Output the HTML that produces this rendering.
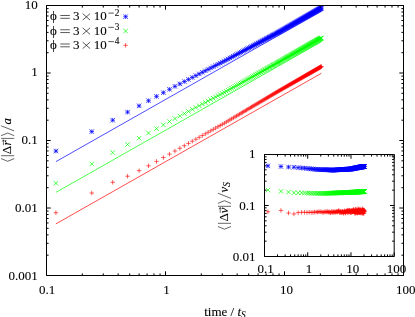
<!DOCTYPE html><html><head><meta charset="utf-8"><style>html,body{margin:0;padding:0;background:#fff}body{width:415px;height:317px;position:relative;overflow:hidden;font-family:"Liberation Serif",serif}</style></head><body><svg width="415" height="317" viewBox="0 0 415 317" style="position:absolute;left:0;top:0;will-change:transform;opacity:0.999">
<rect width="415" height="317" fill="#fff"/>
<path d="M55.92 161.65L321.35 11.10" stroke="#0000ff" stroke-width="0.7" fill="none"/>
<path d="M53.67 151.05H58.17M55.92 148.80V153.30M53.67 148.80L58.17 153.30M53.67 153.30L58.17 148.80M89.50 131.59H94.00M91.75 129.34V133.84M89.50 129.34L94.00 133.84M89.50 133.84L94.00 129.34M110.45 120.20H114.95M112.70 117.95V122.45M110.45 117.95L114.95 122.45M110.45 122.45L114.95 117.95M125.32 112.12H129.82M127.57 109.87V114.37M125.32 109.87L129.82 114.37M125.32 114.37L129.82 109.87M136.85 105.85H141.35M139.10 103.60V108.10M136.85 103.60L141.35 108.10M136.85 108.10L141.35 103.60M146.27 100.73H150.77M148.52 98.48V102.98M146.27 98.48L150.77 102.98M146.27 102.98L150.77 98.48M154.24 96.40H158.74M156.49 94.15V98.65M154.24 94.15L158.74 98.65M154.24 98.65L158.74 94.15M161.14 92.65H165.64M163.39 90.40V94.90M161.14 90.40L165.64 94.90M161.14 94.90L165.64 90.40M167.23 89.35H171.73M169.48 87.10V91.60M167.23 87.10L171.73 91.60M167.23 91.60L171.73 87.10M172.67 86.39H177.17M174.92 84.14V88.64M172.67 84.14L177.17 88.64M172.67 88.64L177.17 84.14M177.60 83.86H182.10M179.85 81.61V86.11M177.60 81.61L182.10 86.11M177.60 86.11L182.10 81.61M182.10 81.55H186.60M184.35 79.30V83.80M182.10 79.30L186.60 83.80M182.10 83.80L186.60 79.30M186.23 79.43H190.73M188.48 77.18V81.68M186.23 77.18L190.73 81.68M186.23 81.68L190.73 77.18M190.06 77.46H194.56M192.31 75.21V79.71M190.06 75.21L194.56 79.71M190.06 79.71L194.56 75.21M193.63 75.63H198.13M195.88 73.38V77.88M193.63 73.38L198.13 77.88M193.63 77.88L198.13 73.38M196.96 73.92H201.46M199.21 71.67V76.17M196.96 71.67L201.46 76.17M196.96 76.17L201.46 71.67M200.10 72.31H204.60M202.35 70.06V74.56M200.10 70.06L204.60 74.56M200.10 74.56L204.60 70.06M203.05 70.79H207.55M205.30 68.54V73.04M203.05 68.54L207.55 73.04M203.05 73.04L207.55 68.54M205.84 69.36H210.34M208.09 67.11V71.61M205.84 67.11L210.34 71.61M205.84 71.61L210.34 67.11M208.50 68.00H213.00M210.75 65.75V70.25M208.50 65.75L213.00 70.25M208.50 70.25L213.00 65.75M211.02 66.71H215.52M213.27 64.46V68.96M211.02 64.46L215.52 68.96M211.02 68.96L215.52 64.46M213.42 65.47H217.92M215.67 63.22V67.72M213.42 63.22L217.92 67.72M213.42 67.72L217.92 63.22M215.72 64.29H220.22M217.97 62.04V66.54M215.72 62.04L220.22 66.54M215.72 66.54L220.22 62.04M217.92 63.16H222.42M220.17 60.91V65.41M217.92 60.91L222.42 65.41M217.92 65.41L222.42 60.91M220.03 62.08H224.53M222.28 59.83V64.33M220.03 59.83L224.53 64.33M220.03 64.33L224.53 59.83M222.05 61.04H226.55M224.30 58.79V63.29M222.05 58.79L226.55 63.29M222.05 63.29L226.55 58.79M224.00 60.02H228.50M226.25 57.77V62.27M224.00 57.77L228.50 62.27M224.00 62.27L228.50 57.77M225.88 59.02H230.38M228.13 56.77V61.27M225.88 56.77L230.38 61.27M225.88 61.27L230.38 56.77M227.70 58.06H232.20M229.95 55.81V60.31M227.70 55.81L232.20 60.31M227.70 60.31L232.20 55.81M229.45 57.13H233.95M231.70 54.88V59.38M229.45 54.88L233.95 59.38M229.45 59.38L233.95 54.88M231.14 56.23H235.64M233.39 53.98V58.48M231.14 53.98L235.64 58.48M231.14 58.48L235.64 53.98M232.79 55.36H237.29M235.04 53.11V57.61M232.79 53.11L237.29 57.61M232.79 57.61L237.29 53.11M234.38 54.52H238.88M236.63 52.27V56.77M234.38 52.27L238.88 56.77M234.38 56.77L238.88 52.27M235.92 53.70H240.42M238.17 51.45V55.95M235.92 51.45L240.42 55.95M235.92 55.95L240.42 51.45M237.42 52.91H241.92M239.67 50.66V55.16M237.42 50.66L241.92 55.16M237.42 55.16L241.92 50.66M238.87 52.14H243.37M241.12 49.89V54.39M238.87 49.89L243.37 54.39M238.87 54.39L243.37 49.89M240.29 51.38H244.79M242.54 49.13V53.63M240.29 49.13L244.79 53.63M240.29 53.63L244.79 49.13M241.67 50.65H246.17M243.92 48.40V52.90M241.67 48.40L246.17 52.90M241.67 52.90L246.17 48.40M243.01 49.94H247.51M245.26 47.69V52.19M243.01 47.69L247.51 52.19M243.01 52.19L247.51 47.69M244.32 49.25H248.82M246.57 47.00V51.50M244.32 47.00L248.82 51.50M244.32 51.50L248.82 47.00M245.59 48.57H250.09M247.84 46.32V50.82M245.59 46.32L250.09 50.82M245.59 50.82L250.09 46.32M246.84 47.91H251.34M249.09 45.66V50.16M246.84 45.66L251.34 50.16M246.84 50.16L251.34 45.66M248.06 47.27H252.56M250.31 45.02V49.52M248.06 45.02L252.56 49.52M248.06 49.52L252.56 45.02M249.24 46.64H253.74M251.49 44.39V48.89M249.24 44.39L253.74 48.89M249.24 48.89L253.74 44.39M250.40 46.02H254.90M252.65 43.77V48.27M250.40 43.77L254.90 48.27M250.40 48.27L254.90 43.77M251.54 45.42H256.04M253.79 43.17V47.67M251.54 43.17L256.04 47.67M251.54 47.67L256.04 43.17M252.65 44.83H257.15M254.90 42.58V47.08M252.65 42.58L257.15 47.08M252.65 47.08L257.15 42.58M253.74 44.25H258.24M255.99 42.00V46.50M253.74 42.00L258.24 46.50M253.74 46.50L258.24 42.00M254.81 43.69H259.31M257.06 41.44V45.94M254.81 41.44L259.31 45.94M254.81 45.94L259.31 41.44M255.85 43.13H260.35M258.10 40.88V45.38M255.85 40.88L260.35 45.38M255.85 45.38L260.35 40.88M256.87 42.59H261.37M259.12 40.34V44.84M256.87 40.34L261.37 44.84M256.87 44.84L261.37 40.34M257.88 42.06H262.38M260.13 39.81V44.31M257.88 39.81L262.38 44.31M257.88 44.31L262.38 39.81M258.86 41.54H263.36M261.11 39.29V43.79M258.86 39.29L263.36 43.79M258.86 43.79L263.36 39.29M259.83 41.02H264.33M262.08 38.77V43.27M259.83 38.77L264.33 43.27M259.83 43.27L264.33 38.77M260.78 40.52H265.28M263.03 38.27V42.77M260.78 38.27L265.28 42.77M260.78 42.77L265.28 38.27M261.71 40.03H266.21M263.96 37.78V42.28M261.71 37.78L266.21 42.28M261.71 42.28L266.21 37.78M262.62 39.54H267.12M264.87 37.29V41.79M262.62 37.29L267.12 41.79M262.62 41.79L267.12 37.29M263.52 39.07H268.02M265.77 36.82V41.32M263.52 36.82L268.02 41.32M263.52 41.32L268.02 36.82M264.40 38.60H268.90M266.65 36.35V40.85M264.40 36.35L268.90 40.85M264.40 40.85L268.90 36.35M265.27 38.14H269.77M267.52 35.89V40.39M265.27 35.89L269.77 40.39M265.27 40.39L269.77 35.89M266.13 37.68H270.63M268.38 35.43V39.93M266.13 35.43L270.63 39.93M266.13 39.93L270.63 35.43M266.97 37.24H271.47M269.22 34.99V39.49M266.97 34.99L271.47 39.49M266.97 39.49L271.47 34.99M267.79 36.80H272.29M270.04 34.55V39.05M267.79 34.55L272.29 39.05M267.79 39.05L272.29 34.55M268.61 36.37H273.11M270.86 34.12V38.62M268.61 34.12L273.11 38.62M268.61 38.62L273.11 34.12M269.41 35.94H273.91M271.66 33.69V38.19M269.41 33.69L273.91 38.19M269.41 38.19L273.91 33.69M270.20 35.53H274.70M272.45 33.28V37.78M270.20 33.28L274.70 37.78M270.20 37.78L274.70 33.28M270.98 35.11H275.48M273.23 32.86V37.36M270.98 32.86L275.48 37.36M270.98 37.36L275.48 32.86M271.74 34.71H276.24M273.99 32.46V36.96M271.74 32.46L276.24 36.96M271.74 36.96L276.24 32.46M272.50 34.31H277.00M274.75 32.06V36.56M272.50 32.06L277.00 36.56M272.50 36.56L277.00 32.06M273.24 33.91H277.74M275.49 31.66V36.16M273.24 31.66L277.74 36.16M273.24 36.16L277.74 31.66M273.97 33.52H278.47M276.22 31.27V35.77M273.97 31.27L278.47 35.77M273.97 35.77L278.47 31.27M274.70 33.14H279.20M276.95 30.89V35.39M274.70 30.89L279.20 35.39M274.70 35.39L279.20 30.89M275.41 32.76H279.91M277.66 30.51V35.01M275.41 30.51L279.91 35.01M275.41 35.01L279.91 30.51M276.11 32.39H280.61M278.36 30.14V34.64M276.11 30.14L280.61 34.64M276.11 34.64L280.61 30.14M276.80 32.02H281.30M279.05 29.77V34.27M276.80 29.77L281.30 34.27M276.80 34.27L281.30 29.77M277.49 31.66H281.99M279.74 29.41V33.91M277.49 29.41L281.99 33.91M277.49 33.91L281.99 29.41M278.16 31.28H282.66M280.41 29.03V33.53M278.16 29.03L282.66 33.53M278.16 33.53L282.66 29.03M278.83 30.90H283.33M281.08 28.65V33.15M278.83 28.65L283.33 33.15M278.83 33.15L283.33 28.65M279.49 30.52H283.99M281.74 28.27V32.77M279.49 28.27L283.99 32.77M279.49 32.77L283.99 28.27M280.14 30.15H284.64M282.39 27.90V32.40M280.14 27.90L284.64 32.40M280.14 32.40L284.64 27.90M280.78 29.79H285.28M283.03 27.54V32.04M280.78 27.54L285.28 32.04M280.78 32.04L285.28 27.54M281.42 29.43H285.92M283.67 27.18V31.68M281.42 27.18L285.92 31.68M281.42 31.68L285.92 27.18M282.04 29.07H286.54M284.29 26.82V31.32M282.04 26.82L286.54 31.32M282.04 31.32L286.54 26.82M282.66 28.72H287.16M284.91 26.47V30.97M282.66 26.47L287.16 30.97M282.66 30.97L287.16 26.47M283.27 28.37H287.77M285.52 26.12V30.62M283.27 26.12L287.77 30.62M283.27 30.62L287.77 26.12M283.88 28.03H288.38M286.13 25.78V30.28M283.88 25.78L288.38 30.28M283.88 30.28L288.38 25.78M284.48 27.69H288.98M286.73 25.44V29.94M284.48 25.44L288.98 29.94M284.48 29.94L288.98 25.44M285.07 27.35H289.57M287.32 25.10V29.60M285.07 25.10L289.57 29.60M285.07 29.60L289.57 25.10M285.65 27.02H290.15M287.90 24.77V29.27M285.65 24.77L290.15 29.27M285.65 29.27L290.15 24.77M286.23 26.69H290.73M288.48 24.44V28.94M286.23 24.44L290.73 28.94M286.23 28.94L290.73 24.44M286.80 26.36H291.30M289.05 24.11V28.61M286.80 24.11L291.30 28.61M286.80 28.61L291.30 24.11M287.36 26.04H291.86M289.61 23.79V28.29M287.36 23.79L291.86 28.29M287.36 28.29L291.86 23.79M287.92 25.73H292.42M290.17 23.48V27.98M287.92 23.48L292.42 27.98M287.92 27.98L292.42 23.48M288.47 25.41H292.97M290.72 23.16V27.66M288.47 23.16L292.97 27.66M288.47 27.66L292.97 23.16M289.02 25.10H293.52M291.27 22.85V27.35M289.02 22.85L293.52 27.35M289.02 27.35L293.52 22.85M289.56 24.79H294.06M291.81 22.54V27.04M289.56 22.54L294.06 27.04M289.56 27.04L294.06 22.54M290.10 24.49H294.60M292.35 22.24V26.74M290.10 22.24L294.60 26.74M290.10 26.74L294.60 22.24M290.63 24.19H295.13M292.88 21.94V26.44M290.63 21.94L295.13 26.44M290.63 26.44L295.13 21.94M291.15 23.89H295.65M293.40 21.64V26.14M291.15 21.64L295.65 26.14M291.15 26.14L295.65 21.64M291.67 23.59H296.17M293.92 21.34V25.84M291.67 21.34L296.17 25.84M291.67 25.84L296.17 21.34M292.19 23.30H296.69M294.44 21.05V25.55M292.19 21.05L296.69 25.55M292.19 25.55L296.69 21.05M292.70 23.01H297.20M294.95 20.76V25.26M292.70 20.76L297.20 25.26M292.70 25.26L297.20 20.76M293.20 22.72H297.70M295.45 20.47V24.97M293.20 20.47L297.70 24.97M293.20 24.97L297.70 20.47M293.70 22.44H298.20M295.95 20.19V24.69M293.70 20.19L298.20 24.69M293.70 24.69L298.20 20.19M294.19 22.16H298.69M296.44 19.91V24.41M294.19 19.91L298.69 24.41M294.19 24.41L298.69 19.91M294.68 21.88H299.18M296.93 19.63V24.13M294.68 19.63L299.18 24.13M294.68 24.13L299.18 19.63M295.17 21.60H299.67M297.42 19.35V23.85M295.17 19.35L299.67 23.85M295.17 23.85L299.67 19.35M295.65 21.33H300.15M297.90 19.08V23.58M295.65 19.08L300.15 23.58M295.65 23.58L300.15 19.08M296.13 21.06H300.63M298.38 18.81V23.31M296.13 18.81L300.63 23.31M296.13 23.31L300.63 18.81M296.60 20.79H301.10M298.85 18.54V23.04M296.60 18.54L301.10 23.04M296.60 23.04L301.10 18.54M297.07 20.52H301.57M299.32 18.27V22.77M297.07 18.27L301.57 22.77M297.07 22.77L301.57 18.27M297.53 20.26H302.03M299.78 18.01V22.51M297.53 18.01L302.03 22.51M297.53 22.51L302.03 18.01M297.99 20.00H302.49M300.24 17.75V22.25M297.99 17.75L302.49 22.25M297.99 22.25L302.49 17.75M298.44 19.74H302.94M300.69 17.49V21.99M298.44 17.49L302.94 21.99M298.44 21.99L302.94 17.49M298.90 19.48H303.40M301.15 17.23V21.73M298.90 17.23L303.40 21.73M298.90 21.73L303.40 17.23M299.34 19.23H303.84M301.59 16.98V21.48M299.34 16.98L303.84 21.48M299.34 21.48L303.84 16.98M299.79 18.98H304.29M302.04 16.73V21.23M299.79 16.73L304.29 21.23M299.79 21.23L304.29 16.73M300.23 18.73H304.73M302.48 16.48V20.98M300.23 16.48L304.73 20.98M300.23 20.98L304.73 16.48M300.66 18.48H305.16M302.91 16.23V20.73M300.66 16.23L305.16 20.73M300.66 20.73L305.16 16.23M301.10 18.23H305.60M303.35 15.98V20.48M301.10 15.98L305.60 20.48M301.10 20.48L305.60 15.98M301.52 17.99H306.02M303.77 15.74V20.24M301.52 15.74L306.02 20.24M301.52 20.24L306.02 15.74M301.95 17.75H306.45M304.20 15.50V20.00M301.95 15.50L306.45 20.00M301.95 20.00L306.45 15.50M302.37 17.51H306.87M304.62 15.26V19.76M302.37 15.26L306.87 19.76M302.37 19.76L306.87 15.26M302.79 17.27H307.29M305.04 15.02V19.52M302.79 15.02L307.29 19.52M302.79 19.52L307.29 15.02M303.20 17.03H307.70M305.45 14.78V19.28M303.20 14.78L307.70 19.28M303.20 19.28L307.70 14.78M303.62 16.80H308.12M305.87 14.55V19.05M303.62 14.55L308.12 19.05M303.62 19.05L308.12 14.55M304.03 16.56H308.53M306.28 14.31V18.81M304.03 14.31L308.53 18.81M304.03 18.81L308.53 14.31M304.43 16.33H308.93M306.68 14.08V18.58M304.43 14.08L308.93 18.58M304.43 18.58L308.93 14.08M304.83 16.11H309.33M307.08 13.86V18.36M304.83 13.86L309.33 18.36M304.83 18.36L309.33 13.86M305.23 15.88H309.73M307.48 13.63V18.13M305.23 13.63L309.73 18.13M305.23 18.13L309.73 13.63M305.63 15.65H310.13M307.88 13.40V17.90M305.63 13.40L310.13 17.90M305.63 17.90L310.13 13.40M306.02 15.43H310.52M308.27 13.18V17.68M306.02 13.18L310.52 17.68M306.02 17.68L310.52 13.18M306.41 15.21H310.91M308.66 12.96V17.46M306.41 12.96L310.91 17.46M306.41 17.46L310.91 12.96M306.80 14.99H311.30M309.05 12.74V17.24M306.80 12.74L311.30 17.24M306.80 17.24L311.30 12.74M307.18 14.77H311.68M309.43 12.52V17.02M307.18 12.52L311.68 17.02M307.18 17.02L311.68 12.52M307.56 14.55H312.06M309.81 12.30V16.80M307.56 12.30L312.06 16.80M307.56 16.80L312.06 12.30M307.94 14.34H312.44M310.19 12.09V16.59M307.94 12.09L312.44 16.59M307.94 16.59L312.44 12.09M308.32 14.12H312.82M310.57 11.87V16.37M308.32 11.87L312.82 16.37M308.32 16.37L312.82 11.87M308.69 13.91H313.19M310.94 11.66V16.16M308.69 11.66L313.19 16.16M308.69 16.16L313.19 11.66M309.06 13.70H313.56M311.31 11.45V15.95M309.06 11.45L313.56 15.95M309.06 15.95L313.56 11.45M309.43 13.49H313.93M311.68 11.24V15.74M309.43 11.24L313.93 15.74M309.43 15.74L313.93 11.24M309.79 13.28H314.29M312.04 11.03V15.53M309.79 11.03L314.29 15.53M309.79 15.53L314.29 11.03M310.16 13.08H314.66M312.41 10.83V15.33M310.16 10.83L314.66 15.33M310.16 15.33L314.66 10.83M310.52 12.87H315.02M312.77 10.62V15.12M310.52 10.62L315.02 15.12M310.52 15.12L315.02 10.62M310.88 12.67H315.38M313.13 10.42V14.92M310.88 10.42L315.38 14.92M310.88 14.92L315.38 10.42M311.23 12.47H315.73M313.48 10.22V14.72M311.23 10.22L315.73 14.72M311.23 14.72L315.73 10.22M311.58 12.27H316.08M313.83 10.02V14.52M311.58 10.02L316.08 14.52M311.58 14.52L316.08 10.02M311.93 12.07H316.43M314.18 9.82V14.32M311.93 9.82L316.43 14.32M311.93 14.32L316.43 9.82M312.28 11.87H316.78M314.53 9.62V14.12M312.28 9.62L316.78 14.12M312.28 14.12L316.78 9.62M312.63 11.67H317.13M314.88 9.42V13.92M312.63 9.42L317.13 13.92M312.63 13.92L317.13 9.42M312.97 11.48H317.47M315.22 9.23V13.73M312.97 9.23L317.47 13.73M312.97 13.73L317.47 9.23M313.31 11.28H317.81M315.56 9.03V13.53M313.31 9.03L317.81 13.53M313.31 13.53L317.81 9.03M313.65 11.09H318.15M315.90 8.84V13.34M313.65 8.84L318.15 13.34M313.65 13.34L318.15 8.84M313.99 10.90H318.49M316.24 8.65V13.15M313.99 8.65L318.49 13.15M313.99 13.15L318.49 8.65M314.32 10.71H318.82M316.57 8.46V12.96M314.32 8.46L318.82 12.96M314.32 12.96L318.82 8.46M314.65 10.52H319.15M316.90 8.27V12.77M314.65 8.27L319.15 12.77M314.65 12.77L319.15 8.27M314.98 10.33H319.48M317.23 8.08V12.58M314.98 8.08L319.48 12.58M314.98 12.58L319.48 8.08M315.31 10.14H319.81M317.56 7.89V12.39M315.31 7.89L319.81 12.39M315.31 12.39L319.81 7.89M315.64 9.96H320.14M317.89 7.71V12.21M315.64 7.71L320.14 12.21M315.64 12.21L320.14 7.71M315.96 9.77H320.46M318.21 7.52V12.02M315.96 7.52L320.46 12.02M315.96 12.02L320.46 7.52M316.28 9.59H320.78M318.53 7.34V11.84M316.28 7.34L320.78 11.84M316.28 11.84L320.78 7.34M316.60 9.41H321.10M318.85 7.16V11.66M316.60 7.16L321.10 11.66M316.60 11.66L321.10 7.16M316.92 9.23H321.42M319.17 6.98V11.48M316.92 6.98L321.42 11.48M316.92 11.48L321.42 6.98M317.24 9.05H321.74M319.49 6.80V11.30M317.24 6.80L321.74 11.30M317.24 11.30L321.74 6.80M317.55 8.87H322.05M319.80 6.62V11.12M317.55 6.62L322.05 11.12M317.55 11.12L322.05 6.62M317.87 8.69H322.37M320.12 6.44V10.94M317.87 6.44L322.37 10.94M317.87 10.94L322.37 6.44M318.18 8.52H322.68M320.43 6.27V10.77M318.18 6.27L322.68 10.77M318.18 10.77L322.68 6.27M318.48 8.34H322.98M320.73 6.09V10.59M318.48 6.09L322.98 10.59M318.48 10.59L322.98 6.09M318.79 8.17H323.29M321.04 5.92V10.42M318.79 5.92L323.29 10.42M318.79 10.42L323.29 5.92M319.10 7.99H323.60M321.35 5.74V10.24M319.10 5.74L323.60 10.24M319.10 10.24L323.60 5.74" stroke="#0000ff" stroke-width="0.72" fill="none"/>
<path d="M55.92 192.38L321.35 41.82" stroke="#00ff00" stroke-width="0.7" fill="none"/>
<path d="M53.67 180.98L58.17 185.48M53.67 185.48L58.17 180.98M89.50 161.65L94.00 166.15M89.50 166.15L94.00 161.65M110.45 150.35L114.95 154.85M110.45 154.85L114.95 150.35M125.32 142.23L129.82 146.73M125.32 146.73L129.82 142.23M136.85 135.92L141.35 140.42M136.85 140.42L141.35 135.92M146.27 130.77L150.77 135.27M146.27 135.27L150.77 130.77M154.24 126.42L158.74 130.92M154.24 130.92L158.74 126.42M161.14 122.65L165.64 127.15M161.14 127.15L165.64 122.65M167.23 119.32L171.73 123.82M167.23 123.82L171.73 119.32M172.67 116.35L177.17 120.85M172.67 120.85L177.17 116.35M177.60 113.73L182.10 118.23M177.60 118.23L182.10 113.73M182.10 111.34L186.60 115.84M182.10 115.84L186.60 111.34M186.23 109.15L190.73 113.65M186.23 113.65L190.73 109.15M190.06 107.12L194.56 111.62M190.06 111.62L194.56 107.12M193.63 105.22L198.13 109.72M193.63 109.72L198.13 105.22M196.96 103.45L201.46 107.95M196.96 107.95L201.46 103.45M200.10 101.79L204.60 106.29M200.10 106.29L204.60 101.79M203.05 100.22L207.55 104.72M203.05 104.72L207.55 100.22M205.84 98.74L210.34 103.24M205.84 103.24L210.34 98.74M208.50 97.33L213.00 101.83M208.50 101.83L213.00 97.33M211.02 95.99L215.52 100.49M211.02 100.49L215.52 95.99M213.42 94.72L217.92 99.22M213.42 99.22L217.92 94.72M215.72 93.50L220.22 98.00M215.72 98.00L220.22 93.50M217.92 92.33L222.42 96.83M217.92 96.83L222.42 92.33M220.03 91.21L224.53 95.71M220.03 95.71L224.53 91.21M222.05 90.13L226.55 94.63M222.05 94.63L226.55 90.13M224.00 89.07L228.50 93.57M224.00 93.57L228.50 89.07M225.88 88.02L230.38 92.52M225.88 92.52L230.38 88.02M227.70 87.01L232.20 91.51M227.70 91.51L232.20 87.01M229.45 86.04L233.95 90.54M229.45 90.54L233.95 86.04M231.14 85.10L235.64 89.60M231.14 89.60L235.64 85.10M232.79 84.18L237.29 88.68M232.79 88.68L237.29 84.18M234.38 83.30L238.88 87.80M234.38 87.80L238.88 83.30M235.92 82.44L240.42 86.94M235.92 86.94L240.42 82.44M237.42 81.61L241.92 86.11M237.42 86.11L241.92 81.61M238.87 80.80L243.37 85.30M238.87 85.30L243.37 80.80M240.29 80.01L244.79 84.51M240.29 84.51L244.79 80.01M241.67 79.25L246.17 83.75M241.67 83.75L246.17 79.25M243.01 78.50L247.51 83.00M243.01 83.00L247.51 78.50M244.32 77.77L248.82 82.27M244.32 82.27L248.82 77.77M245.59 77.06L250.09 81.56M245.59 81.56L250.09 77.06M246.84 76.37L251.34 80.87M246.84 80.87L251.34 76.37M248.06 75.69L252.56 80.19M248.06 80.19L252.56 75.69M249.24 75.03L253.74 79.53M249.24 79.53L253.74 75.03M250.40 74.39L254.90 78.89M250.40 78.89L254.90 74.39M251.54 73.75L256.04 78.25M251.54 78.25L256.04 73.75M252.65 73.14L257.15 77.64M252.65 77.64L257.15 73.14M253.74 72.53L258.24 77.03M253.74 77.03L258.24 72.53M254.81 71.94L259.31 76.44M254.81 76.44L259.31 71.94M255.85 71.36L260.35 75.86M255.85 75.86L260.35 71.36M256.87 70.79L261.37 75.29M256.87 75.29L261.37 70.79M257.88 70.23L262.38 74.73M257.88 74.73L262.38 70.23M258.86 69.68L263.36 74.18M258.86 74.18L263.36 69.68M259.83 69.15L264.33 73.65M259.83 73.65L264.33 69.15M260.78 68.62L265.28 73.12M260.78 73.12L265.28 68.62M261.71 68.10L266.21 72.60M261.71 72.60L266.21 68.10M262.62 67.59L267.12 72.09M262.62 72.09L267.12 67.59M263.52 67.09L268.02 71.59M263.52 71.59L268.02 67.09M264.40 66.60L268.90 71.10M264.40 71.10L268.90 66.60M265.27 66.12L269.77 70.62M265.27 70.62L269.77 66.12M266.13 65.64L270.63 70.14M266.13 70.14L270.63 65.64M266.97 65.18L271.47 69.68M266.97 69.68L271.47 65.18M267.79 64.72L272.29 69.22M267.79 69.22L272.29 64.72M268.61 64.26L273.11 68.76M268.61 68.76L273.11 64.26M269.41 63.82L273.91 68.32M269.41 68.32L273.91 63.82M270.20 63.38L274.70 67.88M270.20 67.88L274.70 63.38M270.98 62.95L275.48 67.45M270.98 67.45L275.48 62.95M271.74 62.52L276.24 67.02M271.74 67.02L276.24 62.52M272.50 62.10L277.00 66.60M272.50 66.60L277.00 62.10M273.24 61.69L277.74 66.19M273.24 66.19L277.74 61.69M273.97 61.28L278.47 65.78M273.97 65.78L278.47 61.28M274.70 60.88L279.20 65.38M274.70 65.38L279.20 60.88M275.41 60.48L279.91 64.98M275.41 64.98L279.91 60.48M276.11 60.09L280.61 64.59M276.11 64.59L280.61 60.09M276.80 59.70L281.30 64.20M276.80 64.20L281.30 59.70M277.49 59.32L281.99 63.82M277.49 63.82L281.99 59.32M278.16 58.94L282.66 63.44M278.16 63.44L282.66 58.94M278.83 58.56L283.33 63.06M278.83 63.06L283.33 58.56M279.49 58.19L283.99 62.69M279.49 62.69L283.99 58.19M280.14 57.82L284.64 62.32M280.14 62.32L284.64 57.82M280.78 57.46L285.28 61.96M280.78 61.96L285.28 57.46M281.42 57.10L285.92 61.60M281.42 61.60L285.92 57.10M282.04 56.74L286.54 61.24M282.04 61.24L286.54 56.74M282.66 56.39L287.16 60.89M282.66 60.89L287.16 56.39M283.27 56.04L287.77 60.54M283.27 60.54L287.77 56.04M283.88 55.70L288.38 60.20M283.88 60.20L288.38 55.70M284.48 55.36L288.98 59.86M284.48 59.86L288.98 55.36M285.07 55.03L289.57 59.53M285.07 59.53L289.57 55.03M285.65 54.69L290.15 59.19M285.65 59.19L290.15 54.69M286.23 54.37L290.73 58.87M286.23 58.87L290.73 54.37M286.80 54.04L291.30 58.54M286.80 58.54L291.30 54.04M287.36 53.72L291.86 58.22M287.36 58.22L291.86 53.72M287.92 53.41L292.42 57.91M287.92 57.91L292.42 53.41M288.47 53.09L292.97 57.59M288.47 57.59L292.97 53.09M289.02 52.78L293.52 57.28M289.02 57.28L293.52 52.78M289.56 52.47L294.06 56.97M289.56 56.97L294.06 52.47M290.10 52.17L294.60 56.67M290.10 56.67L294.60 52.17M290.63 51.87L295.13 56.37M290.63 56.37L295.13 51.87M291.15 51.57L295.65 56.07M291.15 56.07L295.65 51.57M291.67 51.28L296.17 55.78M291.67 55.78L296.17 51.28M292.19 50.99L296.69 55.49M292.19 55.49L296.69 50.99M292.70 50.70L297.20 55.20M292.70 55.20L297.20 50.70M293.20 50.41L297.70 54.91M293.20 54.91L297.70 50.41M293.70 50.13L298.20 54.63M293.70 54.63L298.20 50.13M294.19 49.85L298.69 54.35M294.19 54.35L298.69 49.85M294.68 49.57L299.18 54.07M294.68 54.07L299.18 49.57M295.17 49.29L299.67 53.79M295.17 53.79L299.67 49.29M295.65 49.02L300.15 53.52M295.65 53.52L300.15 49.02M296.13 48.75L300.63 53.25M296.13 53.25L300.63 48.75M296.60 48.48L301.10 52.98M296.60 52.98L301.10 48.48M297.07 48.22L301.57 52.72M297.07 52.72L301.57 48.22M297.53 47.96L302.03 52.46M297.53 52.46L302.03 47.96M297.99 47.70L302.49 52.20M297.99 52.20L302.49 47.70M298.44 47.44L302.94 51.94M298.44 51.94L302.94 47.44M298.90 47.18L303.40 51.68M298.90 51.68L303.40 47.18M299.34 46.93L303.84 51.43M299.34 51.43L303.84 46.93M299.79 46.68L304.29 51.18M299.79 51.18L304.29 46.68M300.23 46.43L304.73 50.93M300.23 50.93L304.73 46.43M300.66 46.18L305.16 50.68M300.66 50.68L305.16 46.18M301.10 45.93L305.60 50.43M301.10 50.43L305.60 45.93M301.52 45.69L306.02 50.19M301.52 50.19L306.02 45.69M301.95 45.45L306.45 49.95M301.95 49.95L306.45 45.45M302.37 45.21L306.87 49.71M302.37 49.71L306.87 45.21M302.79 44.97L307.29 49.47M302.79 49.47L307.29 44.97M303.20 44.74L307.70 49.24M303.20 49.24L307.70 44.74M303.62 44.50L308.12 49.00M303.62 49.00L308.12 44.50M304.03 44.27L308.53 48.77M304.03 48.77L308.53 44.27M304.43 44.04L308.93 48.54M304.43 48.54L308.93 44.04M304.83 43.81L309.33 48.31M304.83 48.31L309.33 43.81M305.23 43.59L309.73 48.09M305.23 48.09L309.73 43.59M305.63 43.36L310.13 47.86M305.63 47.86L310.13 43.36M306.02 43.14L310.52 47.64M306.02 47.64L310.52 43.14M306.41 42.92L310.91 47.42M306.41 47.42L310.91 42.92M306.80 42.70L311.30 47.20M306.80 47.20L311.30 42.70M307.18 42.48L311.68 46.98M307.18 46.98L311.68 42.48M307.56 42.26L312.06 46.76M307.56 46.76L312.06 42.26M307.94 42.05L312.44 46.55M307.94 46.55L312.44 42.05M308.32 41.84L312.82 46.34M308.32 46.34L312.82 41.84M308.69 41.62L313.19 46.12M308.69 46.12L313.19 41.62M309.06 41.41L313.56 45.91M309.06 45.91L313.56 41.41M309.43 41.21L313.93 45.71M309.43 45.71L313.93 41.21M309.79 41.00L314.29 45.50M309.79 45.50L314.29 41.00M310.16 40.79L314.66 45.29M310.16 45.29L314.66 40.79M310.52 40.59L315.02 45.09M310.52 45.09L315.02 40.59M310.88 40.39L315.38 44.89M310.88 44.89L315.38 40.39M311.23 40.18L315.73 44.68M311.23 44.68L315.73 40.18M311.58 39.98L316.08 44.48M311.58 44.48L316.08 39.98M311.93 39.79L316.43 44.29M311.93 44.29L316.43 39.79M312.28 39.59L316.78 44.09M312.28 44.09L316.78 39.59M312.63 39.39L317.13 43.89M312.63 43.89L317.13 39.39M312.97 39.20L317.47 43.70M312.97 43.70L317.47 39.20M313.31 39.00L317.81 43.50M313.31 43.50L317.81 39.00M313.65 38.81L318.15 43.31M313.65 43.31L318.15 38.81M313.99 38.62L318.49 43.12M313.99 43.12L318.49 38.62M314.32 38.43L318.82 42.93M314.32 42.93L318.82 38.43M314.65 38.24L319.15 42.74M314.65 42.74L319.15 38.24M314.98 38.06L319.48 42.56M314.98 42.56L319.48 38.06M315.31 37.87L319.81 42.37M315.31 42.37L319.81 37.87M315.64 37.68L320.14 42.18M315.64 42.18L320.14 37.68M315.96 37.50L320.46 42.00M315.96 42.00L320.46 37.50M316.28 37.32L320.78 41.82M316.28 41.82L320.78 37.32M316.60 37.14L321.10 41.64M316.60 41.64L321.10 37.14M316.92 36.96L321.42 41.46M316.92 41.46L321.42 36.96M317.24 36.78L321.74 41.28M317.24 41.28L321.74 36.78M317.55 36.60L322.05 41.10M317.55 41.10L322.05 36.60M317.87 36.42L322.37 40.92M317.87 40.92L322.37 36.42M318.18 36.24L322.68 40.74M318.18 40.74L322.68 36.24M318.48 36.07L322.98 40.57M318.48 40.57L322.98 36.07M318.79 35.90L323.29 40.40M318.79 40.40L323.29 35.90M319.10 35.72L323.60 40.22M319.10 40.22L323.60 35.72" stroke="#00ff00" stroke-width="0.72" fill="none"/>
<path d="M55.92 223.87L321.35 73.31" stroke="#ff0000" stroke-width="0.7" fill="none"/>
<path d="M53.67 212.73H58.17M55.92 210.48V214.98M89.50 193.02H94.00M91.75 190.77V195.27M110.45 182.29H114.95M112.70 180.04V184.54M125.32 176.21H129.82M127.57 173.96V178.46M136.85 170.68H141.35M139.10 168.43V172.93M146.27 165.81H150.77M148.52 163.56V168.06M154.24 161.42H158.74M156.49 159.17V163.67M161.14 157.53H165.64M163.39 155.28V159.78M167.23 154.10H171.73M169.48 151.85V156.35M172.67 151.03H177.17M174.92 148.78V153.28M177.60 148.25H182.10M179.85 146.00V150.50M182.10 145.72H186.60M184.35 143.47V147.97M186.23 143.38H190.73M188.48 141.13V145.63M190.06 141.22H194.56M192.31 138.97V143.47M193.63 139.21H198.13M195.88 136.96V141.46M196.96 137.32H201.46M199.21 135.07V139.57M200.10 135.55H204.60M202.35 133.30V137.80M203.05 133.89H207.55M205.30 131.64V136.14M205.84 132.31H210.34M208.09 130.06V134.56M208.50 130.81H213.00M210.75 128.56V133.06M211.02 129.39H215.52M213.27 127.14V131.64M213.42 128.03H217.92M215.67 125.78V130.28M215.72 126.73H220.22M217.97 124.48V128.98M217.92 125.49H222.42M220.17 123.24V127.74M220.03 124.30H224.53M222.28 122.05V126.55M222.05 123.16H226.55M224.30 120.91V125.41M224.00 122.02H228.50M226.25 119.77V124.27M225.88 120.91H230.38M228.13 118.66V123.16M227.70 119.83H232.20M229.95 117.58V122.08M229.45 118.80H233.95M231.70 116.55V121.05M231.14 117.79H235.64M233.39 115.54V120.04M232.79 116.82H237.29M235.04 114.57V119.07M234.38 115.88H238.88M236.63 113.63V118.13M235.92 114.97H240.42M238.17 112.72V117.22M237.42 114.08H241.92M239.67 111.83V116.33M238.87 113.22H243.37M241.12 110.97V115.47M240.29 112.38H244.79M242.54 110.13V114.63M241.67 111.56H246.17M243.92 109.31V113.81M243.01 110.77H247.51M245.26 108.52V113.02M244.32 109.99H248.82M246.57 107.74V112.24M245.59 109.23H250.09M247.84 106.98V111.48M246.84 108.50H251.34M249.09 106.25V110.75M248.06 107.78H252.56M250.31 105.53V110.03M249.24 107.07H253.74M251.49 104.82V109.32M250.40 106.39H254.90M252.65 104.14V108.64M251.54 105.71H256.04M253.79 103.46V107.96M252.65 105.05H257.15M254.90 102.80V107.30M253.74 104.41H258.24M255.99 102.16V106.66M254.81 103.78H259.31M257.06 101.53V106.03M255.85 103.16H260.35M258.10 100.91V105.41M256.87 102.55H261.37M259.12 100.30V104.80M257.88 101.96H262.38M260.13 99.71V104.21M258.86 101.38H263.36M261.11 99.13V103.63M259.83 100.80H264.33M262.08 98.55V103.05M260.78 100.24H265.28M263.03 97.99V102.49M261.71 99.69H266.21M263.96 97.44V101.94M262.62 99.15H267.12M264.87 96.90V101.40M263.52 98.62H268.02M265.77 96.37V100.87M264.40 98.09H268.90M266.65 95.84V100.34M265.27 97.58H269.77M267.52 95.33V99.83M266.13 97.07H270.63M268.38 94.82V99.32M266.97 96.58H271.47M269.22 94.33V98.83M267.79 96.09H272.29M270.04 93.84V98.34M268.61 95.60H273.11M270.86 93.35V97.85M269.41 95.13H273.91M271.66 92.88V97.38M270.20 94.66H274.70M272.45 92.41V96.91M270.98 94.20H275.48M273.23 91.95V96.45M271.74 93.75H276.24M273.99 91.50V96.00M272.50 93.30H277.00M274.75 91.05V95.55M273.24 92.86H277.74M275.49 90.61V95.11M273.97 92.43H278.47M276.22 90.18V94.68M274.70 92.01H279.20M276.95 89.76V94.26M275.41 91.60H279.91M277.66 89.35V93.85M276.11 91.20H280.61M278.36 88.95V93.45M276.80 90.80H281.30M279.05 88.55V93.05M277.49 90.41H281.99M279.74 88.16V92.66M278.16 90.02H282.66M280.41 87.77V92.27M278.83 89.64H283.33M281.08 87.39V91.89M279.49 89.26H283.99M281.74 87.01V91.51M280.14 88.89H284.64M282.39 86.64V91.14M280.78 88.52H285.28M283.03 86.27V90.77M281.42 88.16H285.92M283.67 85.91V90.41M282.04 87.80H286.54M284.29 85.55V90.05M282.66 87.45H287.16M284.91 85.20V89.70M283.27 87.10H287.77M285.52 84.85V89.35M283.88 86.75H288.38M286.13 84.50V89.00M284.48 86.41H288.98M286.73 84.16V88.66M285.07 86.07H289.57M287.32 83.82V88.32M285.65 85.73H290.15M287.90 83.48V87.98M286.23 85.40H290.73M288.48 83.15V87.65M286.80 85.08H291.30M289.05 82.83V87.33M287.36 84.75H291.86M289.61 82.50V87.00M287.92 84.43H292.42M290.17 82.18V86.68M288.47 84.11H292.97M290.72 81.86V86.36M289.02 83.80H293.52M291.27 81.55V86.05M289.56 83.49H294.06M291.81 81.24V85.74M290.10 83.18H294.60M292.35 80.93V85.43M290.63 82.88H295.13M292.88 80.63V85.13M291.15 82.58H295.65M293.40 80.33V84.83M291.67 82.28H296.17M293.92 80.03V84.53M292.19 81.99H296.69M294.44 79.74V84.24M292.70 81.70H297.20M294.95 79.45V83.95M293.20 81.41H297.70M295.45 79.16V83.66M293.70 81.12H298.20M295.95 78.87V83.37M294.19 80.84H298.69M296.44 78.59V83.09M294.68 80.56H299.18M296.93 78.31V82.81M295.17 80.28H299.67M297.42 78.03V82.53M295.65 80.00H300.15M297.90 77.75V82.25M296.13 79.73H300.63M298.38 77.48V81.98M296.60 79.46H301.10M298.85 77.21V81.71M297.07 79.19H301.57M299.32 76.94V81.44M297.53 78.92H302.03M299.78 76.67V81.17M297.99 78.66H302.49M300.24 76.41V80.91M298.44 78.40H302.94M300.69 76.15V80.65M298.90 78.14H303.40M301.15 75.89V80.39M299.34 77.88H303.84M301.59 75.63V80.13M299.79 77.63H304.29M302.04 75.38V79.88M300.23 77.38H304.73M302.48 75.13V79.63M300.66 77.13H305.16M302.91 74.88V79.38M301.10 76.88H305.60M303.35 74.63V79.13M301.52 76.63H306.02M303.77 74.38V78.88M301.95 76.39H306.45M304.20 74.14V78.64M302.37 76.15H306.87M304.62 73.90V78.40M302.79 75.91H307.29M305.04 73.66V78.16M303.20 75.67H307.70M305.45 73.42V77.92M303.62 75.44H308.12M305.87 73.19V77.69M304.03 75.20H308.53M306.28 72.95V77.45M304.43 74.97H308.93M306.68 72.72V77.22M304.83 74.74H309.33M307.08 72.49V76.99M305.23 74.51H309.73M307.48 72.26V76.76M305.63 74.28H310.13M307.88 72.03V76.53M306.02 74.06H310.52M308.27 71.81V76.31M306.41 73.83H310.91M308.66 71.58V76.08M306.80 73.61H311.30M309.05 71.36V75.86M307.18 73.39H311.68M309.43 71.14V75.64M307.56 73.17H312.06M309.81 70.92V75.42M307.94 72.96H312.44M310.19 70.71V75.21M308.32 72.74H312.82M310.57 70.49V74.99M308.69 72.53H313.19M310.94 70.28V74.78M309.06 72.31H313.56M311.31 70.06V74.56M309.43 72.10H313.93M311.68 69.85V74.35M309.79 71.89H314.29M312.04 69.64V74.14M310.16 71.69H314.66M312.41 69.44V73.94M310.52 71.48H315.02M312.77 69.23V73.73M310.88 71.27H315.38M313.13 69.02V73.52M311.23 71.07H315.73M313.48 68.82V73.32M311.58 70.87H316.08M313.83 68.62V73.12M311.93 70.67H316.43M314.18 68.42V72.92M312.28 70.47H316.78M314.53 68.22V72.72M312.63 70.27H317.13M314.88 68.02V72.52M312.97 70.07H317.47M315.22 67.82V72.32M313.31 69.88H317.81M315.56 67.63V72.13M313.65 69.68H318.15M315.90 67.43V71.93M313.99 69.49H318.49M316.24 67.24V71.74M314.32 69.30H318.82M316.57 67.05V71.55M314.65 69.11H319.15M316.90 66.86V71.36M314.98 68.92H319.48M317.23 66.67V71.17M315.31 68.73H319.81M317.56 66.48V70.98M315.64 68.54H320.14M317.89 66.29V70.79M315.96 68.36H320.46M318.21 66.11V70.61M316.28 68.17H320.78M318.53 65.92V70.42M316.60 67.99H321.10M318.85 65.74V70.24M316.92 67.81H321.42M319.17 65.56V70.06M317.24 67.63H321.74M319.49 65.38V69.88M317.55 67.45H322.05M319.80 65.20V69.70M317.87 67.27H322.37M320.12 65.02V69.52M318.18 67.09H322.68M320.43 64.84V69.34M318.48 66.91H322.98M320.73 64.66V69.16M318.79 66.74H323.29M321.04 64.49V68.99M319.10 66.56H323.60M321.35 64.31V68.81" stroke="#ff0000" stroke-width="0.62" fill="none"/>
<path d="M265.67 165.88H270.17M267.92 163.63V168.13M265.67 163.63L270.17 168.13M265.67 168.13L270.17 163.63M278.69 166.50H283.19M280.94 164.25V168.75M278.69 164.25L283.19 168.75M278.69 168.75L283.19 164.25M286.30 167.05H290.80M288.55 164.80V169.30M286.30 164.80L290.80 169.30M286.30 169.30L290.80 164.80M291.70 167.24H296.20M293.95 164.99V169.49M291.70 164.99L296.20 169.49M291.70 169.49L296.20 164.99M295.89 167.67H300.39M298.14 165.42V169.92M295.89 165.42L300.39 169.92M295.89 169.92L300.39 165.42M299.32 167.99H303.82M301.57 165.74V170.24M299.32 165.74L303.82 170.24M299.32 170.24L303.82 165.74M302.21 168.13H306.71M304.46 165.88V170.38M302.21 165.88L306.71 170.38M302.21 170.38L306.71 165.88M304.72 168.48H309.22M306.97 166.23V170.73M304.72 166.23L309.22 170.73M304.72 170.73L309.22 166.23M306.93 168.70H311.43M309.18 166.45V170.95M306.93 166.45L311.43 170.95M306.93 170.95L311.43 166.45M308.91 168.85H313.41M311.16 166.60V171.10M308.91 166.60L313.41 171.10M308.91 171.10L313.41 166.60M310.70 169.00H315.20M312.95 166.75V171.25M310.70 166.75L315.20 171.25M310.70 171.25L315.20 166.75M312.33 169.24H316.83M314.58 166.99V171.49M312.33 166.99L316.83 171.49M312.33 171.49L316.83 166.99M313.83 169.35H318.33M316.08 167.10V171.60M313.83 167.10L318.33 171.60M313.83 171.60L318.33 167.10M315.22 169.51H319.72M317.47 167.26V171.76M315.22 167.26L319.72 171.76M315.22 171.76L319.72 167.26M316.52 169.53H321.02M318.77 167.28V171.78M316.52 167.28L321.02 171.78M316.52 171.78L321.02 167.28M317.73 169.58H322.23M319.98 167.33V171.83M317.73 167.33L322.23 171.83M317.73 171.83L322.23 167.33M318.87 169.67H323.37M321.12 167.42V171.92M318.87 167.42L323.37 171.92M318.87 171.92L323.37 167.42M319.94 169.73H324.44M322.19 167.48V171.98M319.94 167.48L324.44 171.98M319.94 171.98L324.44 167.48M320.96 169.77H325.46M323.21 167.52V172.02M320.96 167.52L325.46 172.02M320.96 172.02L325.46 167.52M321.92 169.72H326.42M324.17 167.47V171.97M321.92 167.47L326.42 171.97M321.92 171.97L326.42 167.47M322.84 169.75H327.34M325.09 167.50V172.00M322.84 167.50L327.34 172.00M322.84 172.00L327.34 167.50M323.71 169.80H328.21M325.96 167.55V172.05M323.71 167.55L328.21 172.05M323.71 172.05L328.21 167.55M324.55 169.81H329.05M326.80 167.56V172.06M324.55 167.56L329.05 172.06M324.55 172.06L329.05 167.56M325.34 169.92H329.84M327.59 167.67V172.17M325.34 167.67L329.84 172.17M325.34 172.17L329.84 167.67M326.11 169.87H330.61M328.36 167.62V172.12M326.11 167.62L330.61 172.12M326.11 172.12L330.61 167.62M326.85 169.88H331.35M329.10 167.63V172.13M326.85 167.63L331.35 172.13M326.85 172.13L331.35 167.63M327.56 169.88H332.06M329.81 167.63V172.13M327.56 167.63L332.06 172.13M327.56 172.13L332.06 167.63M328.24 170.00H332.74M330.49 167.75V172.25M328.24 167.75L332.74 172.25M328.24 172.25L332.74 167.75M328.90 170.00H333.40M331.15 167.75V172.25M328.90 167.75L333.40 172.25M328.90 172.25L333.40 167.75M329.53 170.13H334.03M331.78 167.88V172.38M329.53 167.88L334.03 172.38M329.53 172.38L334.03 167.88M330.15 170.06H334.65M332.40 167.81V172.31M330.15 167.81L334.65 172.31M330.15 172.31L334.65 167.81M330.75 170.18H335.25M333.00 167.93V172.43M330.75 167.93L335.25 172.43M330.75 172.43L335.25 167.93M331.32 170.16H335.82M333.57 167.91V172.41M331.32 167.91L335.82 172.41M331.32 172.41L335.82 167.91M331.88 169.98H336.38M334.13 167.73V172.23M331.88 167.73L336.38 172.23M331.88 172.23L336.38 167.73M332.43 170.14H336.93M334.68 167.89V172.39M332.43 167.89L336.93 172.39M332.43 172.39L336.93 167.89M332.96 169.93H337.46M335.21 167.68V172.18M332.96 167.68L337.46 172.18M332.96 172.18L337.46 167.68M333.47 169.92H337.97M335.72 167.67V172.17M333.47 167.67L337.97 172.17M333.47 172.17L337.97 167.67M333.97 169.93H338.47M336.22 167.68V172.18M333.97 167.68L338.47 172.18M333.97 172.18L338.47 167.68M334.46 169.85H338.96M336.71 167.60V172.10M334.46 167.60L338.96 172.10M334.46 172.10L338.96 167.60M334.94 169.82H339.44M337.19 167.57V172.07M334.94 167.57L339.44 172.07M334.94 172.07L339.44 167.57M335.40 169.76H339.90M337.65 167.51V172.01M335.40 167.51L339.90 172.01M335.40 172.01L339.90 167.51M335.85 169.80H340.35M338.10 167.55V172.05M335.85 167.55L340.35 172.05M335.85 172.05L340.35 167.55M336.29 169.80H340.79M338.54 167.55V172.05M336.29 167.55L340.79 172.05M336.29 172.05L340.79 167.55M336.73 169.77H341.23M338.98 167.52V172.02M336.73 167.52L341.23 172.02M336.73 172.02L341.23 167.52M337.15 169.77H341.65M339.40 167.52V172.02M337.15 167.52L341.65 172.02M337.15 172.02L341.65 167.52M337.56 169.68H342.06M339.81 167.43V171.93M337.56 167.43L342.06 171.93M337.56 171.93L342.06 167.43M337.96 169.70H342.46M340.21 167.45V171.95M337.96 167.45L342.46 171.95M337.96 171.95L342.46 167.45M338.36 169.57H342.86M340.61 167.32V171.82M338.36 167.32L342.86 171.82M338.36 171.82L342.86 167.32M338.75 169.72H343.25M341.00 167.47V171.97M338.75 167.47L343.25 171.97M338.75 171.97L343.25 167.47M339.13 169.65H343.63M341.38 167.40V171.90M339.13 167.40L343.63 171.90M339.13 171.90L343.63 167.40M339.50 169.62H344.00M341.75 167.37V171.87M339.50 167.37L344.00 171.87M339.50 171.87L344.00 167.37M339.86 169.66H344.36M342.11 167.41V171.91M339.86 167.41L344.36 171.91M339.86 171.91L344.36 167.41M340.22 169.40H344.72M342.47 167.15V171.65M340.22 167.15L344.72 171.65M340.22 171.65L344.72 167.15M340.57 169.64H345.07M342.82 167.39V171.89M340.57 167.39L345.07 171.89M340.57 171.89L345.07 167.39M340.91 169.49H345.41M343.16 167.24V171.74M340.91 167.24L345.41 171.74M340.91 171.74L345.41 167.24M341.25 169.48H345.75M343.50 167.23V171.73M341.25 167.23L345.75 171.73M341.25 171.73L345.75 167.23M341.59 169.33H346.09M343.84 167.08V171.58M341.59 167.08L346.09 171.58M341.59 171.58L346.09 167.08M341.91 169.53H346.41M344.16 167.28V171.78M341.91 167.28L346.41 171.78M341.91 171.78L346.41 167.28M342.23 169.32H346.73M344.48 167.07V171.57M342.23 167.07L346.73 171.57M342.23 171.57L346.73 167.07M342.55 169.41H347.05M344.80 167.16V171.66M342.55 167.16L347.05 171.66M342.55 171.66L347.05 167.16M342.86 169.36H347.36M345.11 167.11V171.61M342.86 167.11L347.36 171.61M342.86 171.61L347.36 167.11M343.16 169.37H347.66M345.41 167.12V171.62M343.16 167.12L347.66 171.62M343.16 171.62L347.66 167.12M343.46 169.27H347.96M345.71 167.02V171.52M343.46 167.02L347.96 171.52M343.46 171.52L347.96 167.02M343.76 169.36H348.26M346.01 167.11V171.61M343.76 167.11L348.26 171.61M343.76 171.61L348.26 167.11M344.05 169.28H348.55M346.30 167.03V171.53M344.05 167.03L348.55 171.53M344.05 171.53L348.55 167.03M344.34 169.23H348.84M346.59 166.98V171.48M344.34 166.98L348.84 171.48M344.34 171.48L348.84 166.98M344.62 169.12H349.12M346.87 166.87V171.37M344.62 166.87L349.12 171.37M344.62 171.37L349.12 166.87M344.90 169.37H349.40M347.15 167.12V171.62M344.90 167.12L349.40 171.62M344.90 171.62L349.40 167.12M345.17 169.11H349.67M347.42 166.86V171.36M345.17 166.86L349.67 171.36M345.17 171.36L349.67 166.86M345.44 169.13H349.94M347.69 166.88V171.38M345.44 166.88L349.94 171.38M345.44 171.38L349.94 166.88M345.71 169.20H350.21M347.96 166.95V171.45M345.71 166.95L350.21 171.45M345.71 171.45L350.21 166.95M345.97 169.13H350.47M348.22 166.88V171.38M345.97 166.88L350.47 171.38M345.97 171.38L350.47 166.88M346.23 169.17H350.73M348.48 166.92V171.42M346.23 166.92L350.73 171.42M346.23 171.42L350.73 166.92M346.49 169.02H350.99M348.74 166.77V171.27M346.49 166.77L350.99 171.27M346.49 171.27L350.99 166.77M346.74 169.09H351.24M348.99 166.84V171.34M346.74 166.84L351.24 171.34M346.74 171.34L351.24 166.84M346.99 169.10H351.49M349.24 166.85V171.35M346.99 166.85L351.49 171.35M346.99 171.35L351.49 166.85M347.23 169.09H351.73M349.48 166.84V171.34M347.23 166.84L351.73 171.34M347.23 171.34L351.73 166.84M347.47 169.07H351.97M349.72 166.82V171.32M347.47 166.82L351.97 171.32M347.47 171.32L351.97 166.82M347.71 169.06H352.21M349.96 166.81V171.31M347.71 166.81L352.21 171.31M347.71 171.31L352.21 166.81M347.95 169.08H352.45M350.20 166.83V171.33M347.95 166.83L352.45 171.33M347.95 171.33L352.45 166.83M348.18 168.89H352.68M350.43 166.64V171.14M348.18 166.64L352.68 171.14M348.18 171.14L352.68 166.64M348.41 169.12H352.91M350.66 166.87V171.37M348.41 166.87L352.91 171.37M348.41 171.37L352.91 166.87M348.64 169.21H353.14M350.89 166.96V171.46M348.64 166.96L353.14 171.46M348.64 171.46L353.14 166.96M348.87 168.96H353.37M351.12 166.71V171.21M348.87 166.71L353.37 171.21M348.87 171.21L353.37 166.71M349.09 168.92H353.59M351.34 166.67V171.17M349.09 166.67L353.59 171.17M349.09 171.17L353.59 166.67M349.31 168.84H353.81M351.56 166.59V171.09M349.31 166.59L353.81 171.09M349.31 171.09L353.81 166.59M349.53 168.83H354.03M351.78 166.58V171.08M349.53 166.58L354.03 171.08M349.53 171.08L354.03 166.58M349.74 168.78H354.24M351.99 166.53V171.03M349.74 166.53L354.24 171.03M349.74 171.03L354.24 166.53M349.95 168.71H354.45M352.20 166.46V170.96M349.95 166.46L354.45 170.96M349.95 170.96L354.45 166.46M350.16 168.63H354.66M352.41 166.38V170.88M350.16 166.38L354.66 170.88M350.16 170.88L354.66 166.38M350.37 168.67H354.87M352.62 166.42V170.92M350.37 166.42L354.87 170.92M350.37 170.92L354.87 166.42M350.57 168.63H355.07M352.82 166.38V170.88M350.57 166.38L355.07 170.88M350.57 170.88L355.07 166.38M350.78 168.44H355.28M353.03 166.19V170.69M350.78 166.19L355.28 170.69M350.78 170.69L355.28 166.19M350.98 168.49H355.48M353.23 166.24V170.74M350.98 166.24L355.48 170.74M350.98 170.74L355.48 166.24M351.18 168.54H355.68M353.43 166.29V170.79M351.18 166.29L355.68 170.79M351.18 170.79L355.68 166.29M351.37 168.30H355.87M353.62 166.05V170.55M351.37 166.05L355.87 170.55M351.37 170.55L355.87 166.05M351.57 168.36H356.07M353.82 166.11V170.61M351.57 166.11L356.07 170.61M351.57 170.61L356.07 166.11M351.76 168.40H356.26M354.01 166.15V170.65M351.76 166.15L356.26 170.65M351.76 170.65L356.26 166.15M351.95 168.40H356.45M354.20 166.15V170.65M351.95 166.15L356.45 170.65M351.95 170.65L356.45 166.15M352.14 168.27H356.64M354.39 166.02V170.52M352.14 166.02L356.64 170.52M352.14 170.52L356.64 166.02M352.33 168.30H356.83M354.58 166.05V170.55M352.33 166.05L356.83 170.55M352.33 170.55L356.83 166.05M352.51 168.28H357.01M354.76 166.03V170.53M352.51 166.03L357.01 170.53M352.51 170.53L357.01 166.03M352.69 168.26H357.19M354.94 166.01V170.51M352.69 166.01L357.19 170.51M352.69 170.51L357.19 166.01M352.88 168.17H357.38M355.13 165.92V170.42M352.88 165.92L357.38 170.42M352.88 170.42L357.38 165.92M353.06 168.04H357.56M355.31 165.79V170.29M353.06 165.79L357.56 170.29M353.06 170.29L357.56 165.79M353.23 168.10H357.73M355.48 165.85V170.35M353.23 165.85L357.73 170.35M353.23 170.35L357.73 165.85M353.41 168.12H357.91M355.66 165.87V170.37M353.41 165.87L357.91 170.37M353.41 170.37L357.91 165.87M353.58 167.96H358.08M355.83 165.71V170.21M353.58 165.71L358.08 170.21M353.58 170.21L358.08 165.71M353.76 167.96H358.26M356.01 165.71V170.21M353.76 165.71L358.26 170.21M353.76 170.21L358.26 165.71M353.93 167.88H358.43M356.18 165.63V170.13M353.93 165.63L358.43 170.13M353.93 170.13L358.43 165.63M354.10 167.83H358.60M356.35 165.58V170.08M354.10 165.58L358.60 170.08M354.10 170.08L358.60 165.58M354.27 167.88H358.77M356.52 165.63V170.13M354.27 165.63L358.77 170.13M354.27 170.13L358.77 165.63M354.43 167.84H358.93M356.68 165.59V170.09M354.43 165.59L358.93 170.09M354.43 170.09L358.93 165.59M354.60 167.80H359.10M356.85 165.55V170.05M354.60 165.55L359.10 170.05M354.60 170.05L359.10 165.55M354.76 167.84H359.26M357.01 165.59V170.09M354.76 165.59L359.26 170.09M354.76 170.09L359.26 165.59M354.93 167.70H359.43M357.18 165.45V169.95M354.93 165.45L359.43 169.95M354.93 169.95L359.43 165.45M355.09 167.62H359.59M357.34 165.37V169.87M355.09 165.37L359.59 169.87M355.09 169.87L359.59 165.37M355.25 167.66H359.75M357.50 165.41V169.91M355.25 165.41L359.75 169.91M355.25 169.91L359.75 165.41M355.41 167.66H359.91M357.66 165.41V169.91M355.41 165.41L359.91 169.91M355.41 169.91L359.91 165.41M355.56 167.63H360.06M357.81 165.38V169.88M355.56 165.38L360.06 169.88M355.56 169.88L360.06 165.38M355.72 167.63H360.22M357.97 165.38V169.88M355.72 165.38L360.22 169.88M355.72 169.88L360.22 165.38M355.87 167.60H360.37M358.12 165.35V169.85M355.87 165.35L360.37 169.85M355.87 169.85L360.37 165.35M356.03 167.55H360.53M358.28 165.30V169.80M356.03 165.30L360.53 169.80M356.03 169.80L360.53 165.30M356.18 167.55H360.68M358.43 165.30V169.80M356.18 165.30L360.68 169.80M356.18 169.80L360.68 165.30M356.33 167.49H360.83M358.58 165.24V169.74M356.33 165.24L360.83 169.74M356.33 169.74L360.83 165.24M356.48 167.53H360.98M358.73 165.28V169.78M356.48 165.28L360.98 169.78M356.48 169.78L360.98 165.28M356.63 167.39H361.13M358.88 165.14V169.64M356.63 165.14L361.13 169.64M356.63 169.64L361.13 165.14M356.77 167.38H361.27M359.02 165.13V169.63M356.77 165.13L361.27 169.63M356.77 169.63L361.27 165.13M356.92 167.42H361.42M359.17 165.17V169.67M356.92 165.17L361.42 169.67M356.92 169.67L361.42 165.17M357.07 167.46H361.57M359.32 165.21V169.71M357.07 165.21L361.57 169.71M357.07 169.71L361.57 165.21M357.21 167.30H361.71M359.46 165.05V169.55M357.21 165.05L361.71 169.55M357.21 169.55L361.71 165.05M357.35 167.20H361.85M359.60 164.95V169.45M357.35 164.95L361.85 169.45M357.35 169.45L361.85 164.95M357.49 167.29H361.99M359.74 165.04V169.54M357.49 165.04L361.99 169.54M357.49 169.54L361.99 165.04M357.64 167.24H362.14M359.89 164.99V169.49M357.64 164.99L362.14 169.49M357.64 169.49L362.14 164.99M357.77 167.22H362.27M360.02 164.97V169.47M357.77 164.97L362.27 169.47M357.77 169.47L362.27 164.97M357.91 167.12H362.41M360.16 164.87V169.37M357.91 164.87L362.41 169.37M357.91 169.37L362.41 164.87M358.05 167.19H362.55M360.30 164.94V169.44M358.05 164.94L362.55 169.44M358.05 169.44L362.55 164.94M358.19 167.05H362.69M360.44 164.80V169.30M358.19 164.80L362.69 169.30M358.19 169.30L362.69 164.80M358.32 167.10H362.82M360.57 164.85V169.35M358.32 164.85L362.82 169.35M358.32 169.35L362.82 164.85M358.46 167.00H362.96M360.71 164.75V169.25M358.46 164.75L362.96 169.25M358.46 169.25L362.96 164.75M358.59 167.03H363.09M360.84 164.78V169.28M358.59 164.78L363.09 169.28M358.59 169.28L363.09 164.78M358.72 167.02H363.22M360.97 164.77V169.27M358.72 164.77L363.22 169.27M358.72 169.27L363.22 164.77M358.86 167.07H363.36M361.11 164.82V169.32M358.86 164.82L363.36 169.32M358.86 169.32L363.36 164.82M358.99 167.00H363.49M361.24 164.75V169.25M358.99 164.75L363.49 169.25M358.99 169.25L363.49 164.75M359.12 166.95H363.62M361.37 164.70V169.20M359.12 164.70L363.62 169.20M359.12 169.20L363.62 164.70M359.25 166.87H363.75M361.50 164.62V169.12M359.25 164.62L363.75 169.12M359.25 169.12L363.75 164.62M359.37 166.87H363.87M361.62 164.62V169.12M359.37 164.62L363.87 169.12M359.37 169.12L363.87 164.62M359.50 166.90H364.00M361.75 164.65V169.15M359.50 164.65L364.00 169.15M359.50 169.15L364.00 164.65M359.63 166.81H364.13M361.88 164.56V169.06M359.63 164.56L364.13 169.06M359.63 169.06L364.13 164.56M359.75 166.75H364.25M362.00 164.50V169.00M359.75 164.50L364.25 169.00M359.75 169.00L364.25 164.50M359.88 166.80H364.38M362.13 164.55V169.05M359.88 164.55L364.38 169.05M359.88 169.05L364.38 164.55M360.00 166.79H364.50M362.25 164.54V169.04M360.00 164.54L364.50 169.04M360.00 169.04L364.50 164.54M360.12 166.77H364.62M362.37 164.52V169.02M360.12 164.52L364.62 169.02M360.12 169.02L364.62 164.52M360.25 166.67H364.75M362.50 164.42V168.92M360.25 164.42L364.75 168.92M360.25 168.92L364.75 164.42M360.37 166.67H364.87M362.62 164.42V168.92M360.37 164.42L364.87 168.92M360.37 168.92L364.87 164.42M360.49 166.73H364.99M362.74 164.48V168.98M360.49 164.48L364.99 168.98M360.49 168.98L364.99 164.48M360.61 166.63H365.11M362.86 164.38V168.88M360.61 164.38L365.11 168.88M360.61 168.88L365.11 164.38M360.73 166.66H365.23M362.98 164.41V168.91M360.73 164.41L365.23 168.91M360.73 168.91L365.23 164.41M360.85 166.66H365.35M363.10 164.41V168.91M360.85 164.41L365.35 168.91M360.85 168.91L365.35 164.41M360.96 166.51H365.46M363.21 164.26V168.76M360.96 164.26L365.46 168.76M360.96 168.76L365.46 164.26M361.08 166.52H365.58M363.33 164.27V168.77M361.08 164.27L365.58 168.77M361.08 168.77L365.58 164.27M361.20 166.59H365.70M363.45 164.34V168.84M361.20 164.34L365.70 168.84M361.20 168.84L365.70 164.34M361.31 166.52H365.81M363.56 164.27V168.77M361.31 164.27L365.81 168.77M361.31 168.77L365.81 164.27M361.43 166.47H365.93M363.68 164.22V168.72M361.43 164.22L365.93 168.72M361.43 168.72L365.93 164.22M361.54 166.52H366.04M363.79 164.27V168.77M361.54 164.27L366.04 168.77M361.54 168.77L366.04 164.27M361.66 166.47H366.16M363.91 164.22V168.72M361.66 164.22L366.16 168.72M361.66 168.72L366.16 164.22M361.77 166.40H366.27M364.02 164.15V168.65M361.77 164.15L366.27 168.65M361.77 168.65L366.27 164.15M361.88 166.53H366.38M364.13 164.28V168.78M361.88 164.28L366.38 168.78M361.88 168.78L366.38 164.28M361.99 166.38H366.49M364.24 164.13V168.63M361.99 164.13L366.49 168.63M361.99 168.63L366.49 164.13M362.10 166.33H366.60M364.35 164.08V168.58M362.10 164.08L366.60 168.58M362.10 168.58L366.60 164.08" stroke="#0000ff" stroke-width="0.72" fill="none"/>
<path d="M265.67 187.87L270.17 192.37M265.67 192.37L270.17 187.87M278.69 189.12L283.19 193.62M278.69 193.62L283.19 189.12M286.30 189.80L290.80 194.30M286.30 194.30L290.80 189.80M291.70 190.44L296.20 194.94M291.70 194.94L296.20 190.44M295.89 190.54L300.39 195.04M295.89 195.04L300.39 190.54M299.32 190.64L303.82 195.14M299.32 195.14L303.82 190.64M302.21 190.75L306.71 195.25M302.21 195.25L306.71 190.75M304.72 190.88L309.22 195.38M304.72 195.38L309.22 190.88M306.93 190.93L311.43 195.43M306.93 195.43L311.43 190.93M308.91 190.90L313.41 195.40M308.91 195.40L313.41 190.90M310.70 191.06L315.20 195.56M310.70 195.56L315.20 191.06M312.33 191.03L316.83 195.53M312.33 195.53L316.83 191.03M313.83 191.07L318.33 195.57M313.83 195.57L318.33 191.07M315.22 191.16L319.72 195.66M315.22 195.66L319.72 191.16M316.52 191.03L321.02 195.53M316.52 195.53L321.02 191.03M317.73 191.21L322.23 195.71M317.73 195.71L322.23 191.21M318.87 191.09L323.37 195.59M318.87 195.59L323.37 191.09M319.94 191.31L324.44 195.81M319.94 195.81L324.44 191.31M320.96 191.29L325.46 195.79M320.96 195.79L325.46 191.29M321.92 191.05L326.42 195.55M321.92 195.55L326.42 191.05M322.84 191.04L327.34 195.54M322.84 195.54L327.34 191.04M323.71 191.07L328.21 195.57M323.71 195.57L328.21 191.07M324.55 191.02L329.05 195.52M324.55 195.52L329.05 191.02M325.34 191.11L329.84 195.61M325.34 195.61L329.84 191.11M326.11 191.00L330.61 195.50M326.11 195.50L330.61 191.00M326.85 191.00L331.35 195.50M326.85 195.50L331.35 191.00M327.56 190.93L332.06 195.43M327.56 195.43L332.06 190.93M328.24 190.84L332.74 195.34M328.24 195.34L332.74 190.84M328.90 190.86L333.40 195.36M328.90 195.36L333.40 190.86M329.53 190.82L334.03 195.32M329.53 195.32L334.03 190.82M330.15 190.87L334.65 195.37M330.15 195.37L334.65 190.87M330.75 190.83L335.25 195.33M330.75 195.33L335.25 190.83M331.32 190.78L335.82 195.28M331.32 195.28L335.82 190.78M331.88 190.78L336.38 195.28M331.88 195.28L336.38 190.78M332.43 190.67L336.93 195.17M332.43 195.17L336.93 190.67M332.96 190.78L337.46 195.28M332.96 195.28L337.46 190.78M333.47 190.59L337.97 195.09M333.47 195.09L337.97 190.59M333.97 190.75L338.47 195.25M333.97 195.25L338.47 190.75M334.46 190.61L338.96 195.11M334.46 195.11L338.96 190.61M334.94 190.70L339.44 195.20M334.94 195.20L339.44 190.70M335.40 190.54L339.90 195.04M335.40 195.04L339.90 190.54M335.85 190.62L340.35 195.12M335.85 195.12L340.35 190.62M336.29 190.59L340.79 195.09M336.29 195.09L340.79 190.59M336.73 190.55L341.23 195.05M336.73 195.05L341.23 190.55M337.15 190.62L341.65 195.12M337.15 195.12L341.65 190.62M337.56 190.63L342.06 195.13M337.56 195.13L342.06 190.63M337.96 190.68L342.46 195.18M337.96 195.18L342.46 190.68M338.36 190.46L342.86 194.96M338.36 194.96L342.86 190.46M338.75 190.57L343.25 195.07M338.75 195.07L343.25 190.57M339.13 190.55L343.63 195.05M339.13 195.05L343.63 190.55M339.50 190.50L344.00 195.00M339.50 195.00L344.00 190.50M339.86 190.36L344.36 194.86M339.86 194.86L344.36 190.36M340.22 190.58L344.72 195.08M340.22 195.08L344.72 190.58M340.57 190.44L345.07 194.94M340.57 194.94L345.07 190.44M340.91 190.46L345.41 194.96M340.91 194.96L345.41 190.46M341.25 190.39L345.75 194.89M341.25 194.89L345.75 190.39M341.59 190.51L346.09 195.01M341.59 195.01L346.09 190.51M341.91 190.41L346.41 194.91M341.91 194.91L346.41 190.41M342.23 190.32L346.73 194.82M342.23 194.82L346.73 190.32M342.55 190.26L347.05 194.76M342.55 194.76L347.05 190.26M342.86 190.24L347.36 194.74M342.86 194.74L347.36 190.24M343.16 190.37L347.66 194.87M343.16 194.87L347.66 190.37M343.46 190.30L347.96 194.80M343.46 194.80L347.96 190.30M343.76 190.30L348.26 194.80M343.76 194.80L348.26 190.30M344.05 190.36L348.55 194.86M344.05 194.86L348.55 190.36M344.34 190.35L348.84 194.85M344.34 194.85L348.84 190.35M344.62 190.20L349.12 194.70M344.62 194.70L349.12 190.20M344.90 190.22L349.40 194.72M344.90 194.72L349.40 190.22M345.17 190.23L349.67 194.73M345.17 194.73L349.67 190.23M345.44 190.13L349.94 194.63M345.44 194.63L349.94 190.13M345.71 190.26L350.21 194.76M345.71 194.76L350.21 190.26M345.97 190.15L350.47 194.65M345.97 194.65L350.47 190.15M346.23 190.17L350.73 194.67M346.23 194.67L350.73 190.17M346.49 190.16L350.99 194.66M346.49 194.66L350.99 190.16M346.74 190.11L351.24 194.61M346.74 194.61L351.24 190.11M346.99 190.12L351.49 194.62M346.99 194.62L351.49 190.12M347.23 190.10L351.73 194.60M347.23 194.60L351.73 190.10M347.47 190.09L351.97 194.59M347.47 194.59L351.97 190.09M347.71 189.98L352.21 194.48M347.71 194.48L352.21 189.98M347.95 190.10L352.45 194.60M347.95 194.60L352.45 190.10M348.18 190.01L352.68 194.51M348.18 194.51L352.68 190.01M348.41 190.02L352.91 194.52M348.41 194.52L352.91 190.02M348.64 190.07L353.14 194.57M348.64 194.57L353.14 190.07M348.87 189.99L353.37 194.49M348.87 194.49L353.37 189.99M349.09 190.08L353.59 194.58M349.09 194.58L353.59 190.08M349.31 189.94L353.81 194.44M349.31 194.44L353.81 189.94M349.53 190.05L354.03 194.55M349.53 194.55L354.03 190.05M349.74 190.02L354.24 194.52M349.74 194.52L354.24 190.02M349.95 189.96L354.45 194.46M349.95 194.46L354.45 189.96M350.16 189.92L354.66 194.42M350.16 194.42L354.66 189.92M350.37 189.91L354.87 194.41M350.37 194.41L354.87 189.91M350.57 189.90L355.07 194.40M350.57 194.40L355.07 189.90M350.78 189.95L355.28 194.45M350.78 194.45L355.28 189.95M350.98 189.99L355.48 194.49M350.98 194.49L355.48 189.99M351.18 189.89L355.68 194.39M351.18 194.39L355.68 189.89M351.37 189.89L355.87 194.39M351.37 194.39L355.87 189.89M351.57 189.96L356.07 194.46M351.57 194.46L356.07 189.96M351.76 189.83L356.26 194.33M351.76 194.33L356.26 189.83M351.95 189.87L356.45 194.37M351.95 194.37L356.45 189.87M352.14 189.93L356.64 194.43M352.14 194.43L356.64 189.93M352.33 189.84L356.83 194.34M352.33 194.34L356.83 189.84M352.51 189.94L357.01 194.44M352.51 194.44L357.01 189.94M352.69 189.90L357.19 194.40M352.69 194.40L357.19 189.90M352.88 189.81L357.38 194.31M352.88 194.31L357.38 189.81M353.06 189.92L357.56 194.42M353.06 194.42L357.56 189.92M353.23 189.82L357.73 194.32M353.23 194.32L357.73 189.82M353.41 189.89L357.91 194.39M353.41 194.39L357.91 189.89M353.58 189.76L358.08 194.26M353.58 194.26L358.08 189.76M353.76 189.84L358.26 194.34M353.76 194.34L358.26 189.84M353.93 189.77L358.43 194.27M353.93 194.27L358.43 189.77M354.10 189.87L358.60 194.37M354.10 194.37L358.60 189.87M354.27 189.79L358.77 194.29M354.27 194.29L358.77 189.79M354.43 189.70L358.93 194.20M354.43 194.20L358.93 189.70M354.60 189.72L359.10 194.22M354.60 194.22L359.10 189.72M354.76 189.86L359.26 194.36M354.76 194.36L359.26 189.86M354.93 189.68L359.43 194.18M354.93 194.18L359.43 189.68M355.09 189.67L359.59 194.17M355.09 194.17L359.59 189.67M355.25 189.74L359.75 194.24M355.25 194.24L359.75 189.74M355.41 189.63L359.91 194.13M355.41 194.13L359.91 189.63M355.56 189.77L360.06 194.27M355.56 194.27L360.06 189.77M355.72 189.70L360.22 194.20M355.72 194.20L360.22 189.70M355.87 189.62L360.37 194.12M355.87 194.12L360.37 189.62M356.03 189.60L360.53 194.10M356.03 194.10L360.53 189.60M356.18 189.60L360.68 194.10M356.18 194.10L360.68 189.60M356.33 189.73L360.83 194.23M356.33 194.23L360.83 189.73M356.48 189.77L360.98 194.27M356.48 194.27L360.98 189.77M356.63 189.63L361.13 194.13M356.63 194.13L361.13 189.63M356.77 189.73L361.27 194.23M356.77 194.23L361.27 189.73M356.92 189.65L361.42 194.15M356.92 194.15L361.42 189.65M357.07 189.71L361.57 194.21M357.07 194.21L361.57 189.71M357.21 189.56L361.71 194.06M357.21 194.06L361.71 189.56M357.35 189.57L361.85 194.07M357.35 194.07L361.85 189.57M357.49 189.58L361.99 194.08M357.49 194.08L361.99 189.58M357.64 189.60L362.14 194.10M357.64 194.10L362.14 189.60M357.77 189.59L362.27 194.09M357.77 194.09L362.27 189.59M357.91 189.61L362.41 194.11M357.91 194.11L362.41 189.61M358.05 189.56L362.55 194.06M358.05 194.06L362.55 189.56M358.19 189.56L362.69 194.06M358.19 194.06L362.69 189.56M358.32 189.54L362.82 194.04M358.32 194.04L362.82 189.54M358.46 189.59L362.96 194.09M358.46 194.09L362.96 189.59M358.59 189.44L363.09 193.94M358.59 193.94L363.09 189.44M358.72 189.53L363.22 194.03M358.72 194.03L363.22 189.53M358.86 189.46L363.36 193.96M358.86 193.96L363.36 189.46M358.99 189.46L363.49 193.96M358.99 193.96L363.49 189.46M359.12 189.59L363.62 194.09M359.12 194.09L363.62 189.59M359.25 189.63L363.75 194.13M359.25 194.13L363.75 189.63M359.37 189.44L363.87 193.94M359.37 193.94L363.87 189.44M359.50 189.54L364.00 194.04M359.50 194.04L364.00 189.54M359.63 189.50L364.13 194.00M359.63 194.00L364.13 189.50M359.75 189.52L364.25 194.02M359.75 194.02L364.25 189.52M359.88 189.49L364.38 193.99M359.88 193.99L364.38 189.49M360.00 189.56L364.50 194.06M360.00 194.06L364.50 189.56M360.12 189.49L364.62 193.99M360.12 193.99L364.62 189.49M360.25 189.51L364.75 194.01M360.25 194.01L364.75 189.51M360.37 189.47L364.87 193.97M360.37 193.97L364.87 189.47M360.49 189.61L364.99 194.11M360.49 194.11L364.99 189.61M360.61 189.41L365.11 193.91M360.61 193.91L365.11 189.41M360.73 189.43L365.23 193.93M360.73 193.93L365.23 189.43M360.85 189.55L365.35 194.05M360.85 194.05L365.35 189.55M360.96 189.49L365.46 193.99M360.96 193.99L365.46 189.49M361.08 189.43L365.58 193.93M361.08 193.93L365.58 189.43M361.20 189.39L365.70 193.89M361.20 193.89L365.70 189.39M361.31 189.43L365.81 193.93M361.31 193.93L365.81 189.43M361.43 189.33L365.93 193.83M361.43 193.83L365.93 189.33M361.54 189.41L366.04 193.91M361.54 193.91L366.04 189.41M361.66 189.47L366.16 193.97M361.66 193.97L366.16 189.47M361.77 189.44L366.27 193.94M361.77 193.94L366.27 189.44M361.88 189.35L366.38 193.85M361.88 193.85L366.38 189.35M361.99 189.43L366.49 193.93M361.99 193.93L366.49 189.43M362.10 189.34L366.60 193.84M362.10 193.84L366.60 189.34" stroke="#00ff00" stroke-width="0.72" fill="none"/>
<path d="M265.67 211.72H270.17M267.92 209.47V213.97M278.69 210.43H283.19M280.94 208.18V212.68M286.30 213.03H290.80M288.55 210.78V215.28M291.70 213.93H296.20M293.95 211.68V216.18M295.89 212.62H300.39M298.14 210.37V214.87M299.32 212.31H303.82M301.57 210.06V214.56M302.21 212.29H306.71M304.46 210.04V214.54M304.72 212.49H309.22M306.97 210.24V214.74M306.93 212.26H311.43M309.18 210.01V214.51M308.91 212.37H313.41M311.16 210.12V214.62M310.70 212.45H315.20M312.95 210.20V214.70M312.33 212.06H316.83M314.58 209.81V214.31M313.83 211.98H318.33M316.08 209.73V214.23M315.22 212.17H319.72M317.47 209.92V214.42M316.52 211.72H321.02M318.77 209.47V213.97M317.73 211.82H322.23M319.98 209.57V214.07M318.87 211.78H323.37M321.12 209.53V214.03M319.94 212.22H324.44M322.19 209.97V214.47M320.96 212.47H325.46M323.21 210.22V214.72M321.92 211.89H326.42M324.17 209.64V214.14M322.84 211.95H327.34M325.09 209.70V214.20M323.71 211.82H328.21M325.96 209.57V214.07M324.55 211.91H329.05M326.80 209.66V214.16M325.34 211.63H329.84M327.59 209.38V213.88M326.11 212.12H330.61M328.36 209.87V214.37M326.85 211.80H331.35M329.10 209.55V214.05M327.56 212.31H332.06M329.81 210.06V214.56M328.24 212.79H332.74M330.49 210.54V215.04M328.90 212.14H333.40M331.15 209.89V214.39M329.53 211.43H334.03M331.78 209.18V213.68M330.15 212.57H334.65M332.40 210.32V214.82M330.75 211.57H335.25M333.00 209.32V213.82M331.32 212.19H335.82M333.57 209.94V214.44M331.88 212.08H336.38M334.13 209.83V214.33M332.43 211.89H336.93M334.68 209.64V214.14M332.96 211.81H337.46M335.21 209.56V214.06M333.47 212.29H337.97M335.72 210.04V214.54M333.97 211.83H338.47M336.22 209.58V214.08M334.46 211.68H338.96M336.71 209.43V213.93M334.94 211.49H339.44M337.19 209.24V213.74M335.40 212.19H339.90M337.65 209.94V214.44M335.85 211.13H340.35M338.10 208.88V213.38M336.29 210.94H340.79M338.54 208.69V213.19M336.73 210.67H341.23M338.98 208.42V212.92M337.15 212.46H341.65M339.40 210.21V214.71M337.56 211.72H342.06M339.81 209.47V213.97M337.96 212.73H342.46M340.21 210.48V214.98M338.36 211.59H342.86M340.61 209.34V213.84M338.75 211.49H343.25M341.00 209.24V213.74M339.13 212.39H343.63M341.38 210.14V214.64M339.50 212.63H344.00M341.75 210.38V214.88M339.86 211.65H344.36M342.11 209.40V213.90M340.22 211.40H344.72M342.47 209.15V213.65M340.57 212.20H345.07M342.82 209.95V214.45M340.91 211.89H345.41M343.16 209.64V214.14M341.25 213.23H345.75M343.50 210.98V215.48M341.59 212.15H346.09M343.84 209.90V214.40M341.91 211.63H346.41M344.16 209.38V213.88M342.23 211.61H346.73M344.48 209.36V213.86M342.55 210.70H347.05M344.80 208.45V212.95M342.86 212.44H347.36M345.11 210.19V214.69M343.16 213.17H347.66M345.41 210.92V215.42M343.46 211.38H347.96M345.71 209.13V213.63M343.76 212.08H348.26M346.01 209.83V214.33M344.05 211.47H348.55M346.30 209.22V213.72M344.34 211.16H348.84M346.59 208.91V213.41M344.62 211.23H349.12M346.87 208.98V213.48M344.90 210.61H349.40M347.15 208.36V212.86M345.17 210.65H349.67M347.42 208.40V212.90M345.44 212.89H349.94M347.69 210.64V215.14M345.71 211.69H350.21M347.96 209.44V213.94M345.97 210.09H350.47M348.22 207.84V212.34M346.23 211.95H350.73M348.48 209.70V214.20M346.49 210.85H350.99M348.74 208.60V213.10M346.74 211.66H351.24M348.99 209.41V213.91M346.99 211.96H351.49M349.24 209.71V214.21M347.23 210.29H351.73M349.48 208.04V212.54M347.47 210.72H351.97M349.72 208.47V212.97M347.71 211.81H352.21M349.96 209.56V214.06M347.95 210.80H352.45M350.20 208.55V213.05M348.18 212.75H352.68M350.43 210.50V215.00M348.41 212.23H352.91M350.66 209.98V214.48M348.64 210.76H353.14M350.89 208.51V213.01M348.87 211.54H353.37M351.12 209.29V213.79M349.09 212.55H353.59M351.34 210.30V214.80M349.31 211.13H353.81M351.56 208.88V213.38M349.53 211.23H354.03M351.78 208.98V213.48M349.74 210.28H354.24M351.99 208.03V212.53M349.95 210.58H354.45M352.20 208.33V212.83M350.16 211.79H354.66M352.41 209.54V214.04M350.37 212.00H354.87M352.62 209.75V214.25M350.57 211.64H355.07M352.82 209.39V213.89M350.78 211.73H355.28M353.03 209.48V213.98M350.98 209.94H355.48M353.23 207.69V212.19M351.18 209.78H355.68M353.43 207.53V212.03M351.37 210.00H355.87M353.62 207.75V212.25M351.57 211.04H356.07M353.82 208.79V213.29M351.76 211.72H356.26M354.01 209.47V213.97M351.95 210.43H356.45M354.20 208.18V212.68M352.14 211.83H356.64M354.39 209.58V214.08M352.33 211.15H356.83M354.58 208.90V213.40M352.51 213.35H357.01M354.76 211.10V215.60M352.69 211.90H357.19M354.94 209.65V214.15M352.88 209.68H357.38M355.13 207.43V211.93M353.06 212.63H357.56M355.31 210.38V214.88M353.23 213.20H357.73M355.48 210.95V215.45M353.41 211.58H357.91M355.66 209.33V213.83M353.58 209.29H358.08M355.83 207.04V211.54M353.76 209.53H358.26M356.01 207.28V211.78M353.93 211.81H358.43M356.18 209.56V214.06M354.10 211.96H358.60M356.35 209.71V214.21M354.27 211.48H358.77M356.52 209.23V213.73M354.43 212.56H358.93M356.68 210.31V214.81M354.60 211.28H359.10M356.85 209.03V213.53M354.76 211.72H359.26M357.01 209.47V213.97M354.93 213.33H359.43M357.18 211.08V215.58M355.09 212.10H359.59M357.34 209.85V214.35M355.25 211.66H359.75M357.50 209.41V213.91M355.41 212.51H359.91M357.66 210.26V214.76M355.56 212.88H360.06M357.81 210.63V215.13M355.72 209.98H360.22M357.97 207.73V212.23M355.87 208.56H360.37M358.12 206.31V210.81M356.03 211.67H360.53M358.28 209.42V213.92M356.18 211.86H360.68M358.43 209.61V214.11M356.33 210.53H360.83M358.58 208.28V212.78M356.48 211.57H360.98M358.73 209.32V213.82M356.63 212.35H361.13M358.88 210.10V214.60M356.77 209.24H361.27M359.02 206.99V211.49M356.92 212.71H361.42M359.17 210.46V214.96M357.07 212.26H361.57M359.32 210.01V214.51M357.21 212.16H361.71M359.46 209.91V214.41M357.35 212.47H361.85M359.60 210.22V214.72M357.49 211.54H361.99M359.74 209.29V213.79M357.64 210.37H362.14M359.89 208.12V212.62M357.77 209.13H362.27M360.02 206.88V211.38M357.91 210.24H362.41M360.16 207.99V212.49M358.05 211.13H362.55M360.30 208.88V213.38M358.19 212.96H362.69M360.44 210.71V215.21M358.32 211.25H362.82M360.57 209.00V213.50M358.46 212.50H362.96M360.71 210.25V214.75M358.59 211.29H363.09M360.84 209.04V213.54M358.72 209.75H363.22M360.97 207.50V212.00M358.86 210.85H363.36M361.11 208.60V213.10M358.99 211.44H363.49M361.24 209.19V213.69M359.12 212.21H363.62M361.37 209.96V214.46M359.25 211.16H363.75M361.50 208.91V213.41M359.37 210.96H363.87M361.62 208.71V213.21M359.50 212.44H364.00M361.75 210.19V214.69M359.63 211.83H364.13M361.88 209.58V214.08M359.75 209.84H364.25M362.00 207.59V212.09M359.88 213.47H364.38M362.13 211.22V215.72M360.00 211.73H364.50M362.25 209.48V213.98M360.12 212.75H364.62M362.37 210.50V215.00M360.25 208.87H364.75M362.50 206.62V211.12M360.37 210.21H364.87M362.62 207.96V212.46M360.49 210.34H364.99M362.74 208.09V212.59M360.61 210.50H365.11M362.86 208.25V212.75M360.73 210.65H365.23M362.98 208.40V212.90M360.85 210.64H365.35M363.10 208.39V212.89M360.96 213.32H365.46M363.21 211.07V215.57M361.08 210.68H365.58M363.33 208.43V212.93M361.20 210.19H365.70M363.45 207.94V212.44M361.31 213.08H365.81M363.56 210.83V215.33M361.43 209.85H365.93M363.68 207.60V212.10M361.54 210.07H366.04M363.79 207.82V212.32M361.66 213.20H366.16M363.91 210.95V215.45M361.77 211.69H366.27M364.02 209.44V213.94M361.88 211.45H366.38M364.13 209.20V213.70M361.99 211.76H366.49M364.24 209.51V214.01M362.10 210.45H366.60M364.35 208.20V212.70" stroke="#ff0000" stroke-width="0.62" fill="none"/>
<path d="M46.5 5.5H403.5V275.5H46.5ZM46.50 275.5v-4.2M46.50 5.5v4.2M82.32 275.5v-2.1M82.32 5.5v2.1M103.28 275.5v-2.1M103.28 5.5v2.1M118.15 275.5v-2.1M118.15 5.5v2.1M129.68 275.5v-2.1M129.68 5.5v2.1M139.10 275.5v-2.1M139.10 5.5v2.1M147.07 275.5v-2.1M147.07 5.5v2.1M153.97 275.5v-2.1M153.97 5.5v2.1M160.05 275.5v-2.1M160.05 5.5v2.1M165.50 275.5v-4.2M165.50 5.5v4.2M201.32 275.5v-2.1M201.32 5.5v2.1M222.28 275.5v-2.1M222.28 5.5v2.1M237.15 275.5v-2.1M237.15 5.5v2.1M248.68 275.5v-2.1M248.68 5.5v2.1M258.10 275.5v-2.1M258.10 5.5v2.1M266.07 275.5v-2.1M266.07 5.5v2.1M272.97 275.5v-2.1M272.97 5.5v2.1M279.05 275.5v-2.1M279.05 5.5v2.1M284.50 275.5v-4.2M284.50 5.5v4.2M320.32 275.5v-2.1M320.32 5.5v2.1M341.28 275.5v-2.1M341.28 5.5v2.1M356.15 275.5v-2.1M356.15 5.5v2.1M367.68 275.5v-2.1M367.68 5.5v2.1M377.10 275.5v-2.1M377.10 5.5v2.1M385.07 275.5v-2.1M385.07 5.5v2.1M391.97 275.5v-2.1M391.97 5.5v2.1M398.05 275.5v-2.1M398.05 5.5v2.1M403.50 275.5v-4.2M403.50 5.5v4.2M46.5 275.50h4.2M403.5 275.50h-4.2M46.5 255.18h2.1M403.5 255.18h-2.1M46.5 243.29h2.1M403.5 243.29h-2.1M46.5 234.86h2.1M403.5 234.86h-2.1M46.5 228.32h2.1M403.5 228.32h-2.1M46.5 222.97h2.1M403.5 222.97h-2.1M46.5 218.46h2.1M403.5 218.46h-2.1M46.5 214.54h2.1M403.5 214.54h-2.1M46.5 211.09h2.1M403.5 211.09h-2.1M46.5 208.00h4.2M403.5 208.00h-4.2M46.5 187.68h2.1M403.5 187.68h-2.1M46.5 175.79h2.1M403.5 175.79h-2.1M46.5 167.36h2.1M403.5 167.36h-2.1M46.5 160.82h2.1M403.5 160.82h-2.1M46.5 155.47h2.1M403.5 155.47h-2.1M46.5 150.96h2.1M403.5 150.96h-2.1M46.5 147.04h2.1M403.5 147.04h-2.1M46.5 143.59h2.1M403.5 143.59h-2.1M46.5 140.50h4.2M403.5 140.50h-4.2M46.5 120.18h2.1M403.5 120.18h-2.1M46.5 108.29h2.1M403.5 108.29h-2.1M46.5 99.86h2.1M403.5 99.86h-2.1M46.5 93.32h2.1M403.5 93.32h-2.1M46.5 87.97h2.1M403.5 87.97h-2.1M46.5 83.46h2.1M403.5 83.46h-2.1M46.5 79.54h2.1M403.5 79.54h-2.1M46.5 76.09h2.1M403.5 76.09h-2.1M46.5 73.00h4.2M403.5 73.00h-4.2M46.5 52.68h2.1M403.5 52.68h-2.1M46.5 40.79h2.1M403.5 40.79h-2.1M46.5 32.36h2.1M403.5 32.36h-2.1M46.5 25.82h2.1M403.5 25.82h-2.1M46.5 20.47h2.1M403.5 20.47h-2.1M46.5 15.96h2.1M403.5 15.96h-2.1M46.5 12.04h2.1M403.5 12.04h-2.1M46.5 8.59h2.1M403.5 8.59h-2.1M46.5 5.50h4.2M403.5 5.50h-4.2" stroke="#000" stroke-width="1" fill="none"/>
<path d="M264.5 154.5H394.2V256.5H264.5ZM264.50 256.5v-4.2M264.50 154.5v4.2M277.51 256.5v-2.1M277.51 154.5v2.1M285.13 256.5v-2.1M285.13 154.5v2.1M290.53 256.5v-2.1M290.53 154.5v2.1M294.72 256.5v-2.1M294.72 154.5v2.1M298.14 256.5v-2.1M298.14 154.5v2.1M301.04 256.5v-2.1M301.04 154.5v2.1M303.54 256.5v-2.1M303.54 154.5v2.1M305.76 256.5v-2.1M305.76 154.5v2.1M307.73 256.5v-4.2M307.73 154.5v4.2M320.75 256.5v-2.1M320.75 154.5v2.1M328.36 256.5v-2.1M328.36 154.5v2.1M333.76 256.5v-2.1M333.76 154.5v2.1M337.95 256.5v-2.1M337.95 154.5v2.1M341.38 256.5v-2.1M341.38 154.5v2.1M344.27 256.5v-2.1M344.27 154.5v2.1M346.78 256.5v-2.1M346.78 154.5v2.1M348.99 256.5v-2.1M348.99 154.5v2.1M350.97 256.5v-4.2M350.97 154.5v4.2M363.98 256.5v-2.1M363.98 154.5v2.1M371.59 256.5v-2.1M371.59 154.5v2.1M377.00 256.5v-2.1M377.00 154.5v2.1M381.19 256.5v-2.1M381.19 154.5v2.1M384.61 256.5v-2.1M384.61 154.5v2.1M387.50 256.5v-2.1M387.50 154.5v2.1M390.01 256.5v-2.1M390.01 154.5v2.1M392.22 256.5v-2.1M392.22 154.5v2.1M394.20 256.5v-4.2M394.20 154.5v4.2M264.5 256.50h4.2M394.2 256.50h-4.2M264.5 241.15h2.1M394.2 241.15h-2.1M264.5 232.17h2.1M394.2 232.17h-2.1M264.5 225.79h2.1M394.2 225.79h-2.1M264.5 220.85h2.1M394.2 220.85h-2.1M264.5 216.81h2.1M394.2 216.81h-2.1M264.5 213.40h2.1M394.2 213.40h-2.1M264.5 210.44h2.1M394.2 210.44h-2.1M264.5 207.83h2.1M394.2 207.83h-2.1M264.5 205.50h4.2M394.2 205.50h-4.2M264.5 190.15h2.1M394.2 190.15h-2.1M264.5 181.17h2.1M394.2 181.17h-2.1M264.5 174.79h2.1M394.2 174.79h-2.1M264.5 169.85h2.1M394.2 169.85h-2.1M264.5 165.81h2.1M394.2 165.81h-2.1M264.5 162.40h2.1M394.2 162.40h-2.1M264.5 159.44h2.1M394.2 159.44h-2.1M264.5 156.83h2.1M394.2 156.83h-2.1M264.5 154.50h4.2M394.2 154.50h-4.2" stroke="#000" stroke-width="1" fill="none"/>
<g font-family="Liberation Serif, serif" fill="#000" stroke="#000" stroke-width="0.1">
<text x="37.8" y="8.5" font-size="13" text-anchor="end" >10</text>
<text x="37.8" y="75.9" font-size="13" text-anchor="end" >1</text>
<text x="37.8" y="143.6" font-size="13" text-anchor="end" >0.1</text>
<text x="37.8" y="211.5" font-size="13" text-anchor="end" >0.01</text>
<text x="37.8" y="279.6" font-size="13" text-anchor="end" >0.001</text>
<text x="47.0" y="293.9" font-size="13" text-anchor="middle" >0.1</text>
<text x="166.5" y="293.9" font-size="13" text-anchor="middle" >1</text>
<text x="286.6" y="293.9" font-size="13" text-anchor="middle" >10</text>
<text x="405.8" y="293.9" font-size="13" text-anchor="middle" >100</text>
<text x="255.4" y="157.6" font-size="13" text-anchor="end" >1</text>
<text x="255.4" y="209.5" font-size="13" text-anchor="end" >0.1</text>
<text x="255.4" y="260.6" font-size="13" text-anchor="end" >0.01</text>
<text x="265.6" y="272.9" font-size="13" text-anchor="middle" >0.1</text>
<text x="309.1" y="272.9" font-size="13" text-anchor="middle" >1</text>
<text x="352.8" y="272.9" font-size="13" text-anchor="middle" >10</text>
<text x="396.4" y="272.9" font-size="13" text-anchor="middle" >100</text>
<text x="204.2" y="315.5" font-size="13">time / <tspan font-style="italic">t</tspan><tspan font-style="italic" font-size="9.3" dy="2.2">S</tspan></text>
<g transform="translate(11.0,161.4) rotate(-90)">
<path d="M2.80 -9.9L0.10 -3.35L2.80 3.2M5.70 -9.9V3.2M23.00 -9.9V3.2M25.70 -9.9L28.40 -3.35L25.70 3.2M30.50 3.2L35.60 -9.9M16.20 -7.6H21.60M20.00 -8.8L21.60 -7.6L20.00 -6.4" stroke="#000" stroke-width="0.6" fill="none"/>
<text x="7.20" y="0" font-size="13">Δ</text>
<text x="15.90" y="0" font-size="13" font-style="italic">r</text>
<text x="37.0" y="0" font-size="13" font-style="italic">a</text>
</g>
<g transform="translate(227.8,229.5) rotate(-90)">
<path d="M3.00 -9.9L0.30 -3.35L3.00 3.2M6.20 -9.9V3.2M23.20 -9.9V3.2M26.10 -9.9L28.80 -3.35L26.10 3.2M31.10 3.2L36.30 -9.9M16.60 -7.6H22.00M20.40 -8.8L22.00 -7.6L20.40 -6.4" stroke="#000" stroke-width="0.6" fill="none"/>
<text x="7.90" y="0" font-size="13">Δ</text>
<text x="16.20" y="0" font-size="13" font-style="italic">v</text>
<text x="36.9" y="0" font-size="13" font-style="italic">v<tspan font-size="9.3" dy="2.0">S</tspan></text>
</g>
<text transform="translate(50.00,20.30) scale(1.0,1)" font-size="13" fill="#000" >ϕ</text>
<text transform="translate(72.90,20.30) scale(1.0,1)" font-size="13" fill="#000" >3</text>
<text transform="translate(93.70,20.30) scale(1.0,1)" font-size="13" fill="#000" >10</text>
<text transform="translate(114.80,15.70) scale(1.0,1)" font-size="9.3" fill="#000" >2</text>
<path d="M60.3 15.50H69.8M60.3 18.30H69.8M108.3 13.10H113.9M82.7 13.60L90.1 20.10M82.7 20.10L90.1 13.60" stroke="#000" stroke-width="0.65" fill="none"/>
<text transform="translate(50.00,34.55) scale(1.0,1)" font-size="13" fill="#000" >ϕ</text>
<text transform="translate(72.90,34.55) scale(1.0,1)" font-size="13" fill="#000" >3</text>
<text transform="translate(93.70,34.55) scale(1.0,1)" font-size="13" fill="#000" >10</text>
<text transform="translate(114.80,29.95) scale(1.0,1)" font-size="9.3" fill="#000" >3</text>
<path d="M60.3 29.75H69.8M60.3 32.55H69.8M108.3 27.35H113.9M82.7 27.85L90.1 34.35M82.7 34.35L90.1 27.85" stroke="#000" stroke-width="0.65" fill="none"/>
<text transform="translate(50.00,48.80) scale(1.0,1)" font-size="13" fill="#000" >ϕ</text>
<text transform="translate(72.90,48.80) scale(1.0,1)" font-size="13" fill="#000" >3</text>
<text transform="translate(93.70,48.80) scale(1.0,1)" font-size="13" fill="#000" >10</text>
<text transform="translate(114.80,44.20) scale(1.0,1)" font-size="9.3" fill="#000" >4</text>
<path d="M60.3 44.00H69.8M60.3 46.80H69.8M108.3 41.60H113.9M82.7 42.10L90.1 48.60M82.7 48.60L90.1 42.10" stroke="#000" stroke-width="0.65" fill="none"/>
</g>
<path d="M123.35 16.70H127.85M125.60 14.45V18.95M123.35 14.45L127.85 18.95M123.35 18.95L127.85 14.45" stroke="#0000ff" stroke-width="0.72" fill="none"/>
<path d="M123.35 28.75L127.85 33.25M123.35 33.25L127.85 28.75" stroke="#00ff00" stroke-width="0.72" fill="none"/>
<path d="M123.35 45.30H127.85M125.60 43.05V47.55" stroke="#ff0000" stroke-width="0.62" fill="none"/>
</svg></body></html>
